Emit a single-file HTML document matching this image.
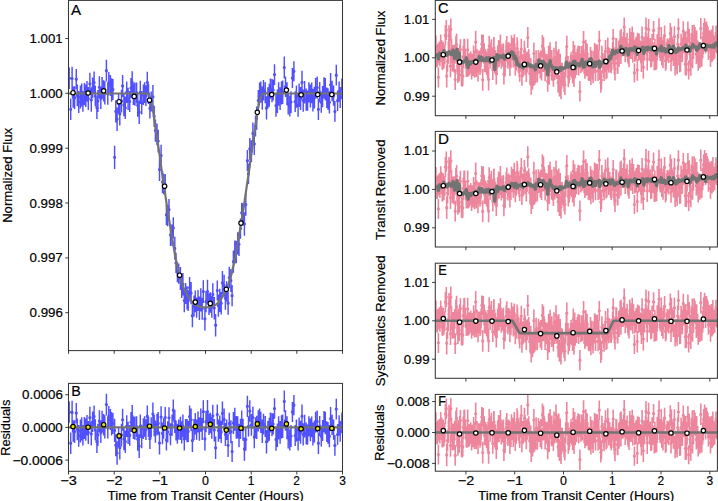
<!DOCTYPE html>
<html><head><meta charset="utf-8"><title>Transit light curves</title><style>html,body{margin:0;padding:0;background:#fff;overflow:hidden}svg{display:block}</style></head>
<body><svg width="718" height="501" viewBox="0 0 718 501">
<defs><clipPath id="cA"><rect x="68.5" y="0.4" width="274.0" height="350.2"/></clipPath><clipPath id="cB"><rect x="68.5" y="383.4" width="274.0" height="87.9"/></clipPath><clipPath id="cC"><rect x="435.3" y="0.4" width="282.1" height="115.3"/></clipPath><clipPath id="cD"><rect x="435.3" y="131.4" width="282.1" height="115.6"/></clipPath><clipPath id="cE"><rect x="435.3" y="263.2" width="282.1" height="115.1"/></clipPath><clipPath id="cF"><rect x="435.3" y="394.4" width="282.1" height="76.8"/></clipPath></defs><rect width="718" height="501" fill="#fff"/><g clip-path="url(#cA)" stroke="#5050ff" fill="none"><path d="M69.2 67.5V88.9M70.7 98.6V120.0M72.1 66.8V90.1M73.2 86.4V107.8M74.6 86.3V109.1M76.3 69.0V89.3M77.3 84.6V106.3M78.7 91.0V112.9M80.4 85.5V108.5M81.7 83.4V106.6M82.9 91.1V111.7M84.4 83.0V105.2M85.8 84.6V106.9M87.0 81.1V101.7M88.3 87.0V110.0M89.9 72.8V94.8M91.3 88.2V111.7M92.6 77.6V98.2M94.1 71.5V93.4M95.3 85.4V106.6M96.9 96.6V119.0M97.9 89.9V112.1M99.4 76.3V98.2M100.8 88.0V109.1M102.1 76.9V98.7M103.6 80.2V101.6M104.8 81.3V104.5M106.4 59.8V81.5M107.8 83.0V104.7M108.8 72.0V92.9M110.4 75.1V96.0M111.6 78.2V101.7M112.9 79.0V100.1M114.6 145.7V168.9M115.8 100.3V122.4M117.1 107.4V130.9M118.6 93.1V113.7M119.8 102.1V125.5M121.5 89.8V112.6M122.6 74.9V96.9M123.9 93.8V116.3M125.3 96.5V119.1M126.7 81.4V103.0M128.1 87.8V110.1M129.7 91.1V111.9M131.0 78.1V98.2M132.2 71.2V93.6M133.4 83.2V105.0M134.9 82.6V105.8M136.6 82.4V103.4M137.7 93.9V116.8M139.2 100.4V124.0M140.3 80.7V103.9M141.7 90.9V114.4M143.4 84.4V105.0M144.6 82.3V102.9M145.9 85.3V106.1M147.3 71.7V93.0M148.5 83.5V103.9M149.9 98.0V118.5M151.2 91.5V111.5M152.9 85.1V108.4M154.2 105.7V127.0M155.4 119.5V141.7M157.0 123.6V145.3M158.2 129.8V152.4M159.5 158.2V181.1M161.1 144.8V166.2M162.5 171.1V193.0M163.6 173.8V194.2M165.2 174.0V195.1M166.4 204.4V225.2M167.7 205.2V226.3M169.0 199.1V220.3M170.5 224.0V246.1M172.1 224.6V245.8M173.3 217.3V238.5M174.8 236.8V259.8M176.0 252.8V272.9M177.4 262.3V282.3M178.7 263.5V283.7M180.4 267.0V290.1M181.7 275.8V298.1M182.9 273.0V295.6M184.3 288.9V312.3M185.6 283.1V303.9M187.1 286.2V309.5M188.2 290.2V311.1M189.6 276.9V298.7M191.1 281.9V304.3M192.4 304.3V327.2M194.0 295.5V316.4M195.3 290.5V312.2M196.6 297.6V317.8M198.0 290.1V311.1M199.4 296.4V320.0M200.8 288.2V311.5M202.2 297.7V319.8M203.3 280.2V303.1M204.9 307.2V330.5M206.0 291.1V312.3M207.5 279.8V303.4M209.0 293.3V314.9M210.4 292.3V312.8M211.8 295.9V317.8M212.8 283.3V305.5M214.3 296.9V319.4M215.6 314.0V336.4M217.3 280.4V300.6M218.4 294.5V316.8M219.8 288.8V312.1M221.2 292.0V314.4M222.4 271.0V294.6M224.1 274.8V296.7M225.4 286.8V309.7M226.6 281.2V301.7M228.1 291.6V314.8M229.3 266.7V288.3M230.9 269.0V292.1M232.1 285.1V306.3M233.4 250.6V272.8M234.8 240.5V263.6M236.3 240.7V263.2M237.7 232.3V254.6M239.0 232.5V256.0M240.5 218.5V238.8M241.7 202.7V223.1M243.0 203.2V225.2M244.4 212.2V235.7M245.8 193.3V215.8M247.4 150.1V171.2M248.5 163.5V183.9M249.8 138.1V159.7M251.4 140.3V162.0M252.9 122.6V144.3M254.3 132.8V155.0M255.5 115.4V136.4M256.7 106.5V129.7M258.3 90.0V111.0M259.6 82.4V102.8M260.8 81.4V102.6M262.3 86.4V109.8M263.5 79.9V100.5M265.2 82.2V103.2M266.5 96.2V119.5M267.9 87.2V108.4M269.3 83.8V106.8M270.4 78.6V98.7M272.0 79.1V102.3M273.2 79.7V100.5M274.5 64.3V84.9M276.0 94.1V116.8M277.4 89.5V113.0M278.6 82.3V105.7M280.1 87.2V109.9M281.5 81.3V104.6M282.7 80.5V104.1M284.3 56.5V78.4M285.5 76.4V96.9M287.0 82.3V105.3M288.2 93.1V114.5M289.8 95.4V116.5M291.0 91.2V113.0M292.4 68.0V88.1M293.9 61.2V81.3M295.2 91.2V112.1M296.4 85.5V107.7M298.1 94.0V116.7M299.1 83.5V106.9M300.6 86.9V109.9M302.0 70.7V94.1M303.2 89.4V111.7M304.6 80.9V103.5M306.2 88.6V110.7M307.6 90.5V110.8M308.9 82.3V102.5M310.4 84.6V107.4M311.7 82.5V103.3M312.9 88.7V111.5M314.4 86.9V108.5M315.6 77.9V98.0M317.2 76.6V98.6M318.4 98.5V120.1M319.7 82.0V102.2M321.3 91.8V112.7M322.6 86.1V107.2M324.0 77.2V98.4M325.3 77.9V100.4M326.8 87.4V108.0M328.0 88.2V109.8M329.4 91.2V113.4M330.6 73.1V96.5M332.1 80.8V101.2M333.6 85.5V105.8M334.9 101.1V121.8M336.3 64.8V85.6M337.6 90.4V110.9M339.1 81.4V101.7M340.2 87.1V107.9M341.9 78.5V99.3" stroke-width="1.45"/><path d="M69.2 78.2h0M70.7 109.3h0M72.1 78.5h0M73.2 97.1h0M74.6 97.7h0M76.3 79.2h0M77.3 95.4h0M78.7 101.9h0M80.4 97.0h0M81.7 95.0h0M82.9 101.4h0M84.4 94.1h0M85.8 95.7h0M87.0 91.4h0M88.3 98.5h0M89.9 83.8h0M91.3 100.0h0M92.6 87.9h0M94.1 82.5h0M95.3 96.0h0M96.9 107.8h0M97.9 101.0h0M99.4 87.3h0M100.8 98.5h0M102.1 87.8h0M103.6 90.9h0M104.8 92.9h0M106.4 70.7h0M107.8 93.8h0M108.8 82.5h0M110.4 85.6h0M111.6 89.9h0M112.9 89.6h0M114.6 157.3h0M115.8 111.3h0M117.1 119.1h0M118.6 103.4h0M119.8 113.8h0M121.5 101.2h0M122.6 85.9h0M123.9 105.0h0M125.3 107.8h0M126.7 92.2h0M128.1 99.0h0M129.7 101.5h0M131.0 88.1h0M132.2 82.4h0M133.4 94.1h0M134.9 94.2h0M136.6 92.9h0M137.7 105.3h0M139.2 112.2h0M140.3 92.3h0M141.7 102.7h0M143.4 94.7h0M144.6 92.6h0M145.9 95.7h0M147.3 82.3h0M148.5 93.7h0M149.9 108.3h0M151.2 101.5h0M152.9 96.8h0M154.2 116.3h0M155.4 130.6h0M157.0 134.5h0M158.2 141.1h0M159.5 169.6h0M161.1 155.5h0M162.5 182.0h0M163.6 184.0h0M165.2 184.5h0M166.4 214.8h0M167.7 215.8h0M169.0 209.7h0M170.5 235.0h0M172.1 235.2h0M173.3 227.9h0M174.8 248.3h0M176.0 262.8h0M177.4 272.3h0M178.7 273.6h0M180.4 278.6h0M181.7 286.9h0M182.9 284.3h0M184.3 300.6h0M185.6 293.5h0M187.1 297.8h0M188.2 300.7h0M189.6 287.8h0M191.1 293.1h0M192.4 315.7h0M194.0 306.0h0M195.3 301.3h0M196.6 307.7h0M198.0 300.6h0M199.4 308.2h0M200.8 299.9h0M202.2 308.8h0M203.3 291.6h0M204.9 318.8h0M206.0 301.7h0M207.5 291.6h0M209.0 304.1h0M210.4 302.6h0M211.8 306.9h0M212.8 294.4h0M214.3 308.1h0M215.6 325.2h0M217.3 290.5h0M218.4 305.7h0M219.8 300.4h0M221.2 303.2h0M222.4 282.8h0M224.1 285.7h0M225.4 298.3h0M226.6 291.4h0M228.1 303.2h0M229.3 277.5h0M230.9 280.6h0M232.1 295.7h0M233.4 261.7h0M234.8 252.1h0M236.3 252.0h0M237.7 243.5h0M239.0 244.3h0M240.5 228.6h0M241.7 212.9h0M243.0 214.2h0M244.4 223.9h0M245.8 204.6h0M247.4 160.7h0M248.5 173.7h0M249.8 148.9h0M251.4 151.2h0M252.9 133.4h0M254.3 143.9h0M255.5 125.9h0M256.7 118.1h0M258.3 100.5h0M259.6 92.6h0M260.8 92.0h0M262.3 98.1h0M263.5 90.2h0M265.2 92.7h0M266.5 107.9h0M267.9 97.8h0M269.3 95.3h0M270.4 88.6h0M272.0 90.7h0M273.2 90.1h0M274.5 74.6h0M276.0 105.5h0M277.4 101.3h0M278.6 94.0h0M280.1 98.6h0M281.5 92.9h0M282.7 92.3h0M284.3 67.5h0M285.5 86.7h0M287.0 93.8h0M288.2 103.8h0M289.8 106.0h0M291.0 102.1h0M292.4 78.0h0M293.9 71.3h0M295.2 101.7h0M296.4 96.6h0M298.1 105.3h0M299.1 95.2h0M300.6 98.4h0M302.0 82.4h0M303.2 100.5h0M304.6 92.2h0M306.2 99.6h0M307.6 100.6h0M308.9 92.4h0M310.4 96.0h0M311.7 92.9h0M312.9 100.1h0M314.4 97.7h0M315.6 87.9h0M317.2 87.6h0M318.4 109.3h0M319.7 92.1h0M321.3 102.3h0M322.6 96.7h0M324.0 87.8h0M325.3 89.1h0M326.8 97.7h0M328.0 99.0h0M329.4 102.3h0M330.6 84.8h0M332.1 91.0h0M333.6 95.7h0M334.9 111.5h0M336.3 75.2h0M337.6 100.7h0M339.1 91.5h0M340.2 97.5h0M341.9 88.9h0" stroke-width="3.2" stroke-linecap="round"/></g><g clip-path="url(#cA)"><path d="M68.5 93.5 69.0 93.5 69.5 93.5 70.0 93.5 70.5 93.5 71.0 93.5 71.5 93.5 72.0 93.5 72.5 93.5 73.0 93.5 73.5 93.5 74.0 93.5 74.5 93.5 75.0 93.5 75.5 93.5 76.0 93.5 76.5 93.5 77.0 93.5 77.5 93.5 78.0 93.5 78.5 93.5 79.0 93.5 79.5 93.5 80.0 93.5 80.5 93.5 81.0 93.5 81.5 93.5 82.0 93.5 82.5 93.5 83.0 93.5 83.5 93.5 84.0 93.5 84.5 93.5 85.0 93.5 85.5 93.5 86.0 93.5 86.5 93.5 87.0 93.5 87.5 93.5 88.0 93.5 88.5 93.5 89.0 93.5 89.5 93.5 90.0 93.5 90.5 93.5 91.0 93.5 91.5 93.5 92.0 93.5 92.5 93.5 93.0 93.5 93.5 93.5 94.0 93.5 94.5 93.5 95.0 93.5 95.5 93.5 96.0 93.5 96.5 93.5 97.0 93.5 97.5 93.5 98.0 93.5 98.5 93.5 99.0 93.5 99.5 93.5 100.0 93.5 100.5 93.5 101.0 93.5 101.5 93.5 102.0 93.5 102.5 93.5 103.0 93.5 103.5 93.5 104.0 93.5 104.5 93.5 105.0 93.5 105.5 93.5 106.0 93.5 106.5 93.5 107.0 93.5 107.5 93.5 108.0 93.5 108.5 93.5 109.0 93.5 109.5 93.5 110.0 93.5 110.5 93.5 111.0 93.5 111.5 93.5 112.0 93.5 112.5 93.5 113.0 93.5 113.5 93.5 114.0 93.5 114.5 93.5 115.0 93.5 115.5 93.5 116.0 93.5 116.5 93.5 117.0 93.5 117.5 93.5 118.0 93.5 118.5 93.5 119.0 93.5 119.5 93.5 120.0 93.5 120.5 93.5 121.0 93.5 121.5 93.5 122.0 93.5 122.5 93.5 123.0 93.5 123.5 93.5 124.0 93.5 124.5 93.5 125.0 93.5 125.5 93.5 126.0 93.5 126.5 93.5 127.0 93.5 127.5 93.5 128.0 93.5 128.5 93.5 129.0 93.5 129.5 93.5 130.0 93.5 130.5 93.5 131.0 93.5 131.5 93.5 132.0 93.5 132.5 93.5 133.0 93.5 133.5 93.5 134.0 93.5 134.5 93.5 135.0 93.5 135.5 93.5 136.0 93.5 136.5 93.5 137.0 93.5 137.5 93.5 138.0 93.5 138.5 93.5 139.0 93.5 139.5 93.5 140.0 93.5 140.5 93.5 141.0 93.5 141.5 93.5 142.0 93.5 142.5 93.5 143.0 93.5 143.5 93.5 144.0 93.5 144.5 93.5 145.0 93.5 145.5 93.5 146.0 93.5 146.5 93.5 147.0 93.5 147.5 93.5 148.0 93.9 148.5 94.3 149.0 94.9 149.5 96.0 150.0 97.1 150.5 98.4 151.0 100.5 151.5 102.7 152.0 104.8 152.5 107.2 153.0 110.5 153.5 113.8 154.0 117.2 154.5 120.5 155.0 123.8 155.5 127.2 156.0 130.5 156.5 133.9 157.0 137.3 157.5 140.7 158.0 144.0 158.5 147.4 159.0 150.8 159.5 154.2 160.0 158.0 160.5 161.7 161.0 165.5 161.5 169.2 162.0 172.5 162.5 175.8 163.0 179.2 163.5 182.5 164.0 185.8 164.5 189.2 165.0 192.7 165.5 196.2 166.0 199.7 166.5 203.2 167.0 206.7 167.5 210.1 168.0 213.1 168.5 216.1 169.0 219.1 169.5 222.1 170.0 225.1 170.5 228.1 171.0 231.1 171.5 234.1 172.0 237.1 172.5 240.1 173.0 243.1 173.5 246.1 174.0 249.1 174.5 252.1 175.0 255.1 175.5 257.9 176.0 260.0 176.5 262.2 177.0 264.3 177.5 266.4 178.0 268.5 178.5 270.7 179.0 272.8 179.5 274.8 180.0 276.4 180.5 278.1 181.0 279.7 181.5 281.3 182.0 282.9 182.5 284.6 183.0 286.2 183.5 287.7 184.0 288.6 184.5 289.6 185.0 290.5 185.5 291.5 186.0 292.4 186.5 293.4 187.0 294.3 187.5 295.3 188.0 296.2 188.5 297.1 189.0 297.8 189.5 298.5 190.0 299.2 190.5 299.9 191.0 300.6 191.5 301.3 192.0 301.9 192.5 302.6 193.0 303.0 193.5 303.4 194.0 303.8 194.5 304.2 195.0 304.7 195.5 305.0 196.0 305.2 196.5 305.4 197.0 305.6 197.5 305.8 198.0 306.0 198.5 306.2 199.0 306.4 199.5 306.6 200.0 306.8 200.5 307.0 201.0 307.1 201.5 307.1 202.0 307.2 202.5 307.2 203.0 307.3 203.5 307.3 204.0 307.4 204.5 307.4 205.0 307.5 205.5 307.5 206.0 307.4 206.5 307.4 207.0 307.3 207.5 307.3 208.0 307.2 208.5 307.2 209.0 307.1 209.5 307.1 210.0 307.0 210.5 307.0 211.0 306.8 211.5 306.6 212.0 306.4 212.5 306.2 213.0 306.0 213.5 305.8 214.0 305.6 214.5 305.4 215.0 305.2 215.5 304.9 216.0 304.5 216.5 304.1 217.0 303.7 217.5 303.2 218.0 302.8 218.5 302.4 219.0 301.7 219.5 301.0 220.0 300.3 220.5 299.6 221.0 298.9 221.5 298.2 222.0 297.6 222.5 296.8 223.0 295.9 223.5 294.9 224.0 294.0 224.5 293.0 225.0 292.1 225.5 291.1 226.0 290.2 226.5 289.2 227.0 288.3 227.5 287.2 228.0 285.6 228.5 283.9 229.0 282.3 229.5 280.7 230.0 279.1 230.5 277.4 231.0 275.8 231.5 274.1 232.0 272.0 232.5 269.8 233.0 267.7 233.5 265.6 234.0 263.5 234.5 261.3 235.0 259.2 235.5 256.9 236.0 253.9 236.5 250.9 237.0 247.9 237.5 244.9 238.0 241.9 238.5 238.9 239.0 235.9 239.5 232.9 240.0 229.9 240.5 226.9 241.0 223.9 241.5 220.9 242.0 217.9 242.5 214.9 243.0 211.9 243.5 208.8 244.0 205.3 244.5 201.8 245.0 198.3 245.5 194.8 246.0 191.3 246.5 187.8 247.0 184.5 247.5 181.2 248.0 177.8 248.5 174.5 249.0 171.2 249.5 167.8 250.0 164.0 250.5 160.3 251.0 156.5 251.5 152.8 252.0 149.5 252.5 146.1 253.0 142.7 253.5 139.3 254.0 136.0 254.5 132.6 255.0 129.2 255.5 125.8 256.0 122.5 256.5 119.2 257.0 115.8 257.5 112.5 258.0 109.2 258.5 106.1 259.0 104.0 259.5 101.8 260.0 99.7 260.5 97.8 261.0 96.7 261.5 95.6 262.0 94.6 262.5 94.1 263.0 93.7 263.5 93.5 264.0 93.5 264.5 93.5 265.0 93.5 265.5 93.5 266.0 93.5 266.5 93.5 267.0 93.5 267.5 93.5 268.0 93.5 268.5 93.5 269.0 93.5 269.5 93.5 270.0 93.5 270.5 93.5 271.0 93.5 271.5 93.5 272.0 93.5 272.5 93.5 273.0 93.5 273.5 93.5 274.0 93.5 274.5 93.5 275.0 93.5 275.5 93.5 276.0 93.5 276.5 93.5 277.0 93.5 277.5 93.5 278.0 93.5 278.5 93.5 279.0 93.5 279.5 93.5 280.0 93.5 280.5 93.5 281.0 93.5 281.5 93.5 282.0 93.5 282.5 93.5 283.0 93.5 283.5 93.5 284.0 93.5 284.5 93.5 285.0 93.5 285.5 93.5 286.0 93.5 286.5 93.5 287.0 93.5 287.5 93.5 288.0 93.5 288.5 93.5 289.0 93.5 289.5 93.5 290.0 93.5 290.5 93.5 291.0 93.5 291.5 93.5 292.0 93.5 292.5 93.5 293.0 93.5 293.5 93.5 294.0 93.5 294.5 93.5 295.0 93.5 295.5 93.5 296.0 93.5 296.5 93.5 297.0 93.5 297.5 93.5 298.0 93.5 298.5 93.5 299.0 93.5 299.5 93.5 300.0 93.5 300.5 93.5 301.0 93.5 301.5 93.5 302.0 93.5 302.5 93.5 303.0 93.5 303.5 93.5 304.0 93.5 304.5 93.5 305.0 93.5 305.5 93.5 306.0 93.5 306.5 93.5 307.0 93.5 307.5 93.5 308.0 93.5 308.5 93.5 309.0 93.5 309.5 93.5 310.0 93.5 310.5 93.5 311.0 93.5 311.5 93.5 312.0 93.5 312.5 93.5 313.0 93.5 313.5 93.5 314.0 93.5 314.5 93.5 315.0 93.5 315.5 93.5 316.0 93.5 316.5 93.5 317.0 93.5 317.5 93.5 318.0 93.5 318.5 93.5 319.0 93.5 319.5 93.5 320.0 93.5 320.5 93.5 321.0 93.5 321.5 93.5 322.0 93.5 322.5 93.5 323.0 93.5 323.5 93.5 324.0 93.5 324.5 93.5 325.0 93.5 325.5 93.5 326.0 93.5 326.5 93.5 327.0 93.5 327.5 93.5 328.0 93.5 328.5 93.5 329.0 93.5 329.5 93.5 330.0 93.5 330.5 93.5 331.0 93.5 331.5 93.5 332.0 93.5 332.5 93.5 333.0 93.5 333.5 93.5 334.0 93.5 334.5 93.5 335.0 93.5 335.5 93.5 336.0 93.5 336.5 93.5 337.0 93.5 337.5 93.5 338.0 93.5 338.5 93.5 339.0 93.5 339.5 93.5 340.0 93.5 340.5 93.5 341.0 93.5 341.5 93.5 342.0 93.5 342.5 93.5" stroke="#737373" stroke-width="2.2" fill="none"/></g><g stroke="#000" stroke-width="1.2"><circle cx="73.0" cy="92.7" r="2.2" fill="#fff"/><circle cx="88.1" cy="93.0" r="2.2" fill="#fff"/><circle cx="103.7" cy="90.8" r="2.2" fill="#fff"/><circle cx="119.1" cy="101.7" r="2.2" fill="#fff"/><circle cx="134.2" cy="96.4" r="2.2" fill="#fff"/><circle cx="149.5" cy="100.2" r="2.2" fill="#fff"/><circle cx="164.6" cy="186.2" r="2.2" fill="#fff"/><circle cx="179.6" cy="275.2" r="2.2" fill="#fff"/><circle cx="195.3" cy="302.1" r="2.2" fill="#fff"/><circle cx="210.3" cy="303.4" r="2.2" fill="#fff"/><circle cx="226.3" cy="289.3" r="2.2" fill="#fff"/><circle cx="241.0" cy="223.1" r="2.2" fill="#fff"/><circle cx="257.3" cy="112.3" r="2.2" fill="#fff"/><circle cx="271.7" cy="94.5" r="2.2" fill="#fff"/><circle cx="286.4" cy="90.1" r="2.2" fill="#fff"/><circle cx="301.1" cy="94.8" r="2.2" fill="#fff"/><circle cx="317.7" cy="94.5" r="2.2" fill="#fff"/><circle cx="331.8" cy="94.5" r="2.2" fill="#fff"/></g><g clip-path="url(#cB)" stroke="#5050ff" fill="none"><path d="M69.2 401.4V422.8M70.7 432.5V453.9M72.1 400.7V424.0M73.2 420.3V441.7M74.6 420.2V443.0M76.3 402.9V423.2M77.3 418.5V440.2M78.7 424.9V446.8M80.4 419.4V442.4M81.7 417.3V440.5M82.9 425.0V445.6M84.4 416.9V439.1M85.8 418.5V440.8M87.0 415.0V435.6M88.3 420.9V443.9M89.9 406.7V428.7M91.3 422.1V445.6M92.6 411.5V432.1M94.1 405.4V427.3M95.3 419.3V440.5M96.9 430.5V452.9M97.9 423.8V446.0M99.4 410.2V432.1M100.8 421.9V443.0M102.1 410.8V432.6M103.6 414.1V435.5M104.8 415.2V438.4M106.4 393.7V415.4M107.8 416.9V438.6M108.8 405.9V426.8M110.4 409.0V429.9M111.6 412.1V435.6M112.9 412.9V434.0M114.6 418.8V442.0M115.8 434.2V456.3M117.1 441.3V464.8M118.6 427.0V447.6M119.8 436.0V459.4M121.5 423.7V446.5M122.6 408.8V430.8M123.9 427.7V450.2M125.3 430.4V453.0M126.7 415.3V436.9M128.1 421.7V444.0M129.7 425.0V445.8M131.0 412.0V432.1M132.2 405.1V427.5M133.4 417.1V438.9M134.9 416.5V439.7M136.6 416.3V437.3M137.7 427.8V450.7M139.2 434.3V457.9M140.3 414.6V437.8M141.7 424.8V448.3M143.4 418.3V438.9M144.6 416.2V436.8M145.9 419.2V440.0M147.3 405.6V426.9M148.5 416.5V436.9M149.9 428.4V449.0M151.2 417.3V437.4M152.9 402.4V425.8M154.2 414.9V436.2M155.4 420.5V442.7M157.0 413.7V435.4M158.2 412.1V434.8M159.5 431.6V454.5M161.1 406.3V427.7M162.5 422.4V444.3M163.6 418.3V438.7M165.2 407.0V428.1M166.4 429.6V450.4M167.7 421.3V442.4M169.0 407.2V428.4M170.5 423.2V445.3M172.1 414.6V435.8M173.3 399.6V420.8M174.8 410.0V433.0M176.0 420.4V440.4M177.4 423.8V443.8M178.7 419.4V439.6M180.4 416.8V439.9M181.7 421.2V443.4M182.9 414.6V437.3M184.3 427.1V450.6M185.6 418.9V439.7M187.1 419.0V442.3M188.2 421.0V441.9M189.6 405.6V427.5M191.1 408.6V431.0M192.4 429.2V452.1M194.0 419.1V440.0M195.3 412.9V434.6M196.6 419.5V439.7M198.0 411.4V432.5M199.4 417.2V440.8M200.8 408.6V431.8M202.2 417.9V440.0M203.3 400.3V423.2M204.9 427.2V450.4M206.0 411.1V432.2M207.5 400.0V423.5M209.0 413.5V435.1M210.4 412.7V433.3M211.8 416.9V438.8M212.8 404.7V426.8M214.3 418.9V441.4M215.6 436.6V459.0M217.3 404.5V424.6M218.4 419.4V441.7M219.8 415.6V438.9M221.2 420.7V443.1M222.4 401.5V425.0M224.1 408.5V430.3M225.4 422.9V445.9M226.6 419.5V440.0M228.1 433.7V456.9M229.3 412.8V434.3M230.9 420.2V443.3M232.1 440.9V462.1M233.4 411.9V434.1M234.8 407.8V430.8M236.3 416.1V438.7M237.7 416.2V438.4M239.0 423.8V447.3M240.5 418.8V439.1M241.7 410.5V430.9M243.0 418.7V440.7M244.4 437.4V460.8M245.8 428.3V450.8M247.4 395.8V416.9M248.5 416.2V436.6M249.8 400.2V421.8M251.4 414.1V435.8M252.9 406.7V428.4M254.3 426.0V448.2M255.5 417.3V438.3M256.7 415.8V439.0M258.3 410.3V431.4M259.6 408.6V428.9M260.8 411.7V432.9M262.3 419.5V442.9M263.5 413.8V434.4M265.2 416.1V437.1M266.5 430.1V453.4M267.9 421.1V442.3M269.3 417.7V440.7M270.4 412.5V432.6M272.0 413.0V436.2M273.2 413.6V434.4M274.5 398.2V418.8M276.0 428.0V450.7M277.4 423.4V446.9M278.6 416.2V439.6M280.1 421.1V443.8M281.5 415.2V438.5M282.7 414.4V438.0M284.3 390.4V412.3M285.5 410.3V430.8M287.0 416.2V439.2M288.2 427.0V448.4M289.8 429.3V450.4M291.0 425.1V446.9M292.4 401.9V422.0M293.9 395.1V415.2M295.2 425.1V446.0M296.4 419.4V441.6M298.1 427.9V450.6M299.1 417.4V440.8M300.6 420.8V443.8M302.0 404.6V428.0M303.2 423.3V445.6M304.6 414.8V437.4M306.2 422.5V444.6M307.6 424.4V444.7M308.9 416.2V436.4M310.4 418.5V441.3M311.7 416.4V437.2M312.9 422.6V445.4M314.4 420.8V442.4M315.6 411.8V431.9M317.2 410.5V432.5M318.4 432.4V454.0M319.7 415.9V436.1M321.3 425.7V446.6M322.6 420.0V441.1M324.0 411.1V432.3M325.3 411.8V434.3M326.8 421.3V441.9M328.0 422.1V443.7M329.4 425.1V447.3M330.6 407.0V430.4M332.1 414.7V435.1M333.6 419.4V439.7M334.9 435.0V455.7M336.3 398.7V419.5M337.6 424.3V444.8M339.1 415.3V435.6M340.2 421.0V441.8M341.9 412.4V433.2" stroke-width="1.45"/><path d="M69.2 412.1h0M70.7 443.2h0M72.1 412.4h0M73.2 431.0h0M74.6 431.6h0M76.3 413.1h0M77.3 429.3h0M78.7 435.8h0M80.4 430.9h0M81.7 428.9h0M82.9 435.3h0M84.4 428.0h0M85.8 429.6h0M87.0 425.3h0M88.3 432.4h0M89.9 417.7h0M91.3 433.9h0M92.6 421.8h0M94.1 416.4h0M95.3 429.9h0M96.9 441.7h0M97.9 434.9h0M99.4 421.2h0M100.8 432.4h0M102.1 421.7h0M103.6 424.8h0M104.8 426.8h0M106.4 404.6h0M107.8 427.7h0M108.8 416.4h0M110.4 419.5h0M111.6 423.8h0M112.9 423.5h0M114.6 430.4h0M115.8 445.2h0M117.1 453.0h0M118.6 437.3h0M119.8 447.7h0M121.5 435.1h0M122.6 419.8h0M123.9 438.9h0M125.3 441.7h0M126.7 426.1h0M128.1 432.9h0M129.7 435.4h0M131.0 422.0h0M132.2 416.3h0M133.4 428.0h0M134.9 428.1h0M136.6 426.8h0M137.7 439.2h0M139.2 446.1h0M140.3 426.2h0M141.7 436.6h0M143.4 428.6h0M144.6 426.5h0M145.9 429.6h0M147.3 416.2h0M148.5 426.7h0M149.9 438.7h0M151.2 427.3h0M152.9 414.1h0M154.2 425.5h0M155.4 431.6h0M157.0 424.5h0M158.2 423.4h0M159.5 443.0h0M161.1 417.0h0M162.5 433.3h0M163.6 428.5h0M165.2 417.6h0M166.4 440.0h0M167.7 431.9h0M169.0 417.8h0M170.5 434.3h0M172.1 425.2h0M173.3 410.2h0M174.8 421.5h0M176.0 430.4h0M177.4 433.8h0M178.7 429.5h0M180.4 428.3h0M181.7 432.3h0M182.9 426.0h0M184.3 438.9h0M185.6 429.3h0M187.1 430.7h0M188.2 431.4h0M189.6 416.6h0M191.1 419.8h0M192.4 440.6h0M194.0 429.5h0M195.3 423.8h0M196.6 429.6h0M198.0 421.9h0M199.4 429.0h0M200.8 420.2h0M202.2 429.0h0M203.3 411.7h0M204.9 438.8h0M206.0 421.7h0M207.5 411.7h0M209.0 424.3h0M210.4 423.0h0M211.8 427.8h0M212.8 415.8h0M214.3 430.1h0M215.6 447.8h0M217.3 414.5h0M218.4 430.5h0M219.8 427.2h0M221.2 431.9h0M222.4 413.3h0M224.1 419.4h0M225.4 434.4h0M226.6 429.8h0M228.1 445.3h0M229.3 423.6h0M230.9 431.7h0M232.1 451.5h0M233.4 423.0h0M234.8 419.3h0M236.3 427.4h0M237.7 427.3h0M239.0 435.6h0M240.5 428.9h0M241.7 420.7h0M243.0 429.7h0M244.4 449.1h0M245.8 439.5h0M247.4 406.3h0M248.5 426.4h0M249.8 411.0h0M251.4 424.9h0M252.9 417.5h0M254.3 437.1h0M255.5 427.8h0M256.7 427.4h0M258.3 420.9h0M259.6 418.8h0M260.8 422.3h0M262.3 431.2h0M263.5 424.1h0M265.2 426.6h0M266.5 441.8h0M267.9 431.7h0M269.3 429.2h0M270.4 422.5h0M272.0 424.6h0M273.2 424.0h0M274.5 408.5h0M276.0 439.4h0M277.4 435.2h0M278.6 427.9h0M280.1 432.5h0M281.5 426.8h0M282.7 426.2h0M284.3 401.4h0M285.5 420.6h0M287.0 427.7h0M288.2 437.7h0M289.8 439.9h0M291.0 436.0h0M292.4 411.9h0M293.9 405.2h0M295.2 435.6h0M296.4 430.5h0M298.1 439.2h0M299.1 429.1h0M300.6 432.3h0M302.0 416.3h0M303.2 434.4h0M304.6 426.1h0M306.2 433.5h0M307.6 434.5h0M308.9 426.3h0M310.4 429.9h0M311.7 426.8h0M312.9 434.0h0M314.4 431.6h0M315.6 421.8h0M317.2 421.5h0M318.4 443.2h0M319.7 426.0h0M321.3 436.2h0M322.6 430.6h0M324.0 421.7h0M325.3 423.0h0M326.8 431.6h0M328.0 432.9h0M329.4 436.2h0M330.6 418.7h0M332.1 424.9h0M333.6 429.6h0M334.9 445.4h0M336.3 409.1h0M337.6 434.6h0M339.1 425.4h0M340.2 431.4h0M341.9 422.8h0" stroke-width="3.2" stroke-linecap="round"/></g><path d="M68.5 427.4H342.5" stroke="#737373" stroke-width="2.4"/><g stroke="#000" stroke-width="1.2"><circle cx="73.0" cy="426.6" r="2.2" fill="#e8e000"/><circle cx="88.1" cy="427.2" r="2.2" fill="#e8e000"/><circle cx="103.7" cy="424.7" r="2.2" fill="#e8e000"/><circle cx="119.1" cy="435.9" r="2.2" fill="#e8e000"/><circle cx="134.2" cy="430.3" r="2.2" fill="#e8e000"/><circle cx="149.5" cy="426.2" r="2.2" fill="#e8e000"/><circle cx="164.6" cy="428.0" r="2.2" fill="#e8e000"/><circle cx="179.6" cy="428.0" r="2.2" fill="#e8e000"/><circle cx="195.3" cy="426.5" r="2.2" fill="#e8e000"/><circle cx="210.3" cy="424.3" r="2.2" fill="#e8e000"/><circle cx="226.3" cy="430.1" r="2.2" fill="#e8e000"/><circle cx="241.0" cy="428.2" r="2.2" fill="#e8e000"/><circle cx="257.3" cy="423.9" r="2.2" fill="#e8e000"/><circle cx="271.7" cy="428.3" r="2.2" fill="#e8e000"/><circle cx="286.4" cy="423.9" r="2.2" fill="#e8e000"/><circle cx="301.1" cy="428.8" r="2.2" fill="#e8e000"/><circle cx="317.7" cy="428.6" r="2.2" fill="#e8e000"/><circle cx="331.8" cy="428.3" r="2.2" fill="#e8e000"/></g><g clip-path="url(#cC)" stroke="#ed869c" fill="none"><path d="M435.9 35.5V58.2M436.7 46.1V67.4M437.2 44.9V67.1M437.8 43.6V65.4M438.4 67.3V87.4M439.2 41.6V63.3M439.9 46.0V66.2M440.7 34.6V55.5M441.6 40.1V62.3M442.2 49.8V69.7M442.6 50.3V70.0M443.2 41.7V64.1M443.9 47.7V68.6M444.8 44.7V64.4M445.4 25.3V45.5M446.3 20.0V40.1M446.7 64.8V87.4M447.5 50.9V71.8M448.4 41.1V63.8M449.0 25.3V46.2M449.6 28.7V51.5M450.5 54.6V77.3M450.8 18.6V39.9M451.5 38.5V60.6M452.4 51.5V71.6M453.1 45.0V64.5M454.0 51.2V72.6M454.7 44.6V63.8M455.2 69.1V90.0M455.9 36.3V57.8M456.6 33.4V55.5M457.0 49.6V72.2M457.9 63.2V83.1M458.5 47.9V70.4M459.2 60.2V81.2M459.8 45.0V66.5M460.4 39.2V60.0M461.5 63.7V86.1M462.1 66.5V86.7M462.8 66.7V85.8M463.3 45.8V68.1M464.0 39.1V60.7M464.6 38.8V60.7M465.5 49.3V68.8M466.3 57.0V76.8M466.9 55.5V77.0M467.7 38.8V60.8M468.1 55.0V76.6M469.0 53.3V74.7M469.4 53.9V75.6M470.3 53.8V73.4M470.7 51.3V72.1M471.6 59.2V79.5M472.3 53.7V75.6M472.9 55.0V76.0M473.6 45.4V67.3M474.5 56.0V77.7M475.0 50.4V73.0M475.7 30.8V53.2M476.2 57.8V77.0M477.0 49.0V70.7M478.0 61.1V81.6M478.7 50.8V70.2M479.1 50.6V71.6M480.0 52.8V75.1M480.7 50.6V72.8M481.1 47.7V67.1M481.8 34.3V54.1M482.7 68.9V90.7M483.2 34.8V57.6M484.2 43.2V62.6M484.6 52.9V72.3M485.5 49.0V70.8M486.1 51.0V72.4M486.6 52.5V74.8M487.6 58.5V78.3M488.0 48.4V69.4M488.6 68.4V90.6M489.2 35.7V56.3M490.1 47.8V68.4M490.9 42.6V61.7M491.4 39.2V61.4M492.4 47.8V68.6M492.8 59.4V79.9M493.8 37.4V59.0M494.0 36.9V59.3M494.8 50.8V73.3M495.5 50.0V70.3M496.3 63.1V84.5M497.0 54.3V74.9M497.7 45.4V67.8M498.6 39.9V62.0M499.1 45.4V67.0M499.8 41.1V63.4M500.4 34.4V55.5M501.3 47.6V68.8M501.8 46.4V66.1M502.6 44.6V66.4M503.4 43.3V63.4M503.9 63.4V84.6M504.5 54.6V73.6M505.1 56.0V76.6M506.2 40.2V61.6M506.8 35.9V57.4M507.5 43.1V64.4M507.9 48.8V68.8M508.7 42.0V63.6M509.6 43.3V64.9M509.9 54.6V76.0M510.9 47.8V68.3M511.5 35.2V54.8M512.0 39.4V60.6M512.8 38.0V57.2M513.3 45.0V67.6M514.3 34.2V54.7M515.0 45.9V66.0M515.3 54.9V75.7M516.2 51.2V70.6M517.1 37.3V59.9M517.5 41.1V64.0M518.3 50.5V72.8M519.2 55.8V77.1M519.7 59.1V81.8M520.2 50.6V70.9M521.3 38.7V59.5M521.9 66.0V85.7M522.5 54.4V75.1M523.0 54.3V77.1M523.9 53.8V75.4M524.4 40.7V61.9M525.0 47.7V68.9M525.7 53.1V74.6M526.3 60.7V82.1M527.1 51.4V72.2M527.8 27.0V48.1M528.7 48.9V68.3M529.3 54.0V74.7M530.0 62.7V84.4M530.8 58.1V78.0M531.2 74.6V94.7M532.0 64.2V86.4M532.5 70.1V89.7M533.4 66.3V86.0M533.9 42.4V64.6M534.6 65.8V85.3M535.3 63.0V83.2M536.1 50.3V72.9M537.0 61.7V82.4M537.4 59.0V81.3M538.4 50.0V72.1M538.8 54.6V73.7M539.5 52.5V72.4M540.3 55.7V78.4M540.8 50.5V70.8M541.6 60.0V80.6M542.4 34.9V57.6M543.2 52.6V72.1M543.5 37.2V60.1M544.6 49.8V71.3M545.1 59.7V81.2M545.8 56.3V75.3M546.2 53.8V75.3M547.4 55.5V77.8M547.7 71.1V91.7M548.6 45.8V65.1M549.2 65.3V84.8M550.1 42.2V61.5M550.6 52.2V72.8M551.5 58.3V80.5M551.8 50.1V69.3M552.7 60.5V81.1M553.4 66.1V86.7M554.0 47.8V68.4M554.8 59.1V80.2M555.4 56.1V77.3M556.0 41.2V61.0M556.8 56.8V79.0M557.3 51.2V72.3M558.1 72.2V92.6M558.8 49.1V72.0M559.4 74.8V96.6M560.2 53.8V73.5M561.0 76.3V99.2M561.4 63.3V84.6M562.2 62.8V83.1M562.7 66.3V86.3M563.7 67.4V86.7M564.1 71.9V91.9M564.9 74.9V95.1M565.7 56.8V77.1M566.4 46.4V69.4M566.8 35.8V57.2M568.0 56.0V75.8M568.3 66.8V87.3M569.2 62.7V83.4M569.7 60.7V80.0M570.6 55.3V76.1M571.1 52.3V73.4M571.8 55.0V77.7M572.6 62.6V83.3M573.3 41.0V62.7M574.0 65.4V87.1M574.7 45.0V64.7M575.2 56.9V78.2M575.8 52.3V73.1M576.6 55.3V74.9M577.3 48.7V67.8M578.1 45.5V68.5M578.7 56.2V75.6M579.3 46.1V68.6M579.9 81.1V101.6M580.9 53.8V73.1M581.3 45.9V68.8M582.2 49.9V71.5M583.0 45.0V65.7M583.6 31.1V53.4M584.1 52.1V74.0M584.9 58.1V78.7M585.8 39.7V61.5M586.1 54.4V76.4M587.1 43.6V63.3M587.7 54.0V75.9M588.4 57.5V80.2M589.0 59.2V81.0M589.6 58.5V80.7M590.5 46.9V69.9M590.9 62.8V85.0M592.0 50.5V71.4M592.6 58.1V79.4M593.1 61.2V83.3M593.9 51.6V73.1M594.6 43.1V62.4M595.5 61.7V80.9M595.7 44.3V64.4M596.5 45.4V67.7M597.3 44.6V64.4M598.1 60.8V81.0M598.8 49.9V72.2M599.3 30.8V50.4M599.8 59.8V79.9M600.8 72.8V92.8M601.4 70.5V89.7M601.9 45.8V67.8M602.9 52.9V73.1M603.5 56.8V77.5M604.1 60.7V81.0M604.7 52.7V71.9M605.5 40.1V62.5M606.1 59.7V79.3M606.9 58.1V78.3M607.8 37.7V59.6M608.3 47.0V67.4M608.8 51.8V72.8M609.7 47.9V68.3M610.6 51.0V72.3M611.2 53.0V73.2M611.8 49.1V69.9M612.6 42.1V61.2M613.2 28.9V48.0M613.9 46.8V67.8M614.4 52.1V74.4M615.0 57.5V80.5M616.0 37.9V60.2M616.6 38.3V59.4M617.4 52.4V73.9M617.8 52.1V73.8M618.8 40.9V62.8M619.1 43.9V66.8M620.2 30.4V50.7M620.9 43.3V64.1M621.1 28.8V50.9M621.9 36.5V56.4M623.0 36.9V56.3M623.6 31.9V54.5M624.2 17.5V36.6M624.6 28.4V50.9M625.2 39.6V62.3M626.0 37.2V56.9M627.1 32.7V54.7M627.7 41.7V61.8M628.2 44.2V64.3M629.0 44.3V67.2M629.8 28.2V50.8M630.2 36.6V58.6M631.1 38.3V59.1M631.5 31.9V54.8M632.2 26.6V47.9M632.8 39.5V62.4M633.5 32.3V54.2M634.4 63.3V82.5M634.8 39.7V61.9M635.8 38.3V60.6M636.3 36.5V59.0M637.3 59.2V80.7M637.6 32.7V51.9M638.4 38.7V61.1M639.1 33.5V54.2M639.9 40.3V60.0M640.7 41.1V60.9M641.4 52.2V72.0M642.1 26.4V48.6M642.7 41.5V60.8M643.3 55.9V78.5M643.9 36.8V55.9M644.5 38.7V60.6M645.6 32.7V52.6M646.0 17.5V38.5M646.8 36.7V56.4M647.2 47.8V70.4M648.1 33.2V52.8M648.6 19.1V39.9M649.4 39.5V60.9M650.3 38.0V58.8M650.8 47.6V67.4M651.6 46.7V66.8M652.1 33.9V56.6M652.9 42.1V61.6M653.6 20.9V40.0M654.3 47.8V70.4M654.9 38.8V61.3M655.8 48.1V69.9M656.6 48.4V69.3M657.2 34.3V57.1M657.5 36.8V57.4M658.4 30.6V49.6M659.0 18.2V38.9M659.8 37.0V58.1M660.3 39.8V61.0M661.3 27.0V49.5M661.8 46.2V65.5M662.8 39.8V62.2M663.0 47.0V68.1M663.9 34.6V56.5M664.6 25.4V46.1M665.5 50.6V70.8M666.1 48.9V69.2M666.5 41.9V62.0M667.3 38.5V59.3M668.2 39.7V61.0M668.7 40.6V62.9M669.3 38.2V57.9M670.3 22.9V43.7M671.0 50.1V71.2M671.4 27.1V49.4M672.2 38.6V60.4M673.1 38.9V60.4M673.4 44.3V66.0M674.4 26.3V47.1M675.1 53.1V75.4M675.7 47.6V69.9M676.4 49.2V70.4M677.1 54.9V74.3M677.7 33.9V54.6M678.4 18.6V38.7M678.9 45.3V65.1M679.7 52.1V72.3M680.5 49.5V71.8M681.1 33.8V54.1M681.9 37.8V58.6M682.4 41.6V62.1M683.3 21.3V41.1M683.9 31.6V52.9M684.3 32.2V52.9M685.3 52.8V75.5M685.8 31.5V52.9M686.4 52.4V75.4M687.1 37.3V59.8M687.9 21.4V42.4M688.7 60.4V79.5M689.2 28.7V48.5M689.9 44.4V63.8M690.8 53.7V75.7M691.3 32.9V52.5M692.3 25.0V46.6M692.6 47.9V68.2M693.5 38.0V58.9M694.1 24.7V46.7M695.0 27.0V47.2M695.6 31.1V50.8M696.3 44.1V64.2M696.7 30.5V53.2M697.7 40.4V61.6M698.2 50.7V70.8M699.1 47.1V66.7M699.8 48.9V68.2M700.1 46.3V66.7M700.8 17.9V39.3M701.8 45.9V66.7M702.6 36.3V58.6M703.3 31.5V54.5M703.7 22.9V44.2M704.6 18.3V38.7M704.9 22.1V44.3M705.6 34.1V53.5M706.5 21.4V43.5M707.2 24.7V47.2M708.0 26.8V48.9M708.4 40.7V60.1M709.2 30.2V51.5M710.2 31.2V53.4M710.5 46.4V67.1M711.3 29.5V51.9M712.0 42.3V62.0M712.9 25.4V46.6M713.2 39.0V60.2M714.1 36.6V58.7M714.7 37.9V58.6M715.4 32.0V52.0M716.0 25.6V47.4M716.8 34.0V53.5" stroke-width="1.6"/><path d="M435.9 46.8h0M436.7 56.8h0M437.2 56.0h0M437.8 54.5h0M438.4 77.3h0M439.2 52.5h0M439.9 56.1h0M440.7 45.1h0M441.6 51.2h0M442.2 59.8h0M442.6 60.1h0M443.2 52.9h0M443.9 58.1h0M444.8 54.6h0M445.4 35.4h0M446.3 30.1h0M446.7 76.1h0M447.5 61.4h0M448.4 52.4h0M449.0 35.8h0M449.6 40.1h0M450.5 66.0h0M450.8 29.3h0M451.5 49.5h0M452.4 61.5h0M453.1 54.8h0M454.0 61.9h0M454.7 54.2h0M455.2 79.6h0M455.9 47.1h0M456.6 44.5h0M457.0 60.9h0M457.9 73.2h0M458.5 59.1h0M459.2 70.7h0M459.8 55.8h0M460.4 49.6h0M461.5 74.9h0M462.1 76.6h0M462.8 76.2h0M463.3 56.9h0M464.0 49.9h0M464.6 49.8h0M465.5 59.0h0M466.3 66.9h0M466.9 66.2h0M467.7 49.8h0M468.1 65.8h0M469.0 64.0h0M469.4 64.7h0M470.3 63.6h0M470.7 61.7h0M471.6 69.4h0M472.3 64.6h0M472.9 65.5h0M473.6 56.4h0M474.5 66.8h0M475.0 61.7h0M475.7 42.0h0M476.2 67.4h0M477.0 59.9h0M478.0 71.3h0M478.7 60.5h0M479.1 61.1h0M480.0 63.9h0M480.7 61.7h0M481.1 57.4h0M481.8 44.2h0M482.7 79.8h0M483.2 46.2h0M484.2 52.9h0M484.6 62.6h0M485.5 59.9h0M486.1 61.7h0M486.6 63.6h0M487.6 68.4h0M488.0 58.9h0M488.6 79.5h0M489.2 46.0h0M490.1 58.1h0M490.9 52.2h0M491.4 50.3h0M492.4 58.2h0M492.8 69.6h0M493.8 48.2h0M494.0 48.1h0M494.8 62.0h0M495.5 60.1h0M496.3 73.8h0M497.0 64.6h0M497.7 56.6h0M498.6 51.0h0M499.1 56.2h0M499.8 52.2h0M500.4 45.0h0M501.3 58.2h0M501.8 56.3h0M502.6 55.5h0M503.4 53.4h0M503.9 74.0h0M504.5 64.1h0M505.1 66.3h0M506.2 50.9h0M506.8 46.7h0M507.5 53.7h0M507.9 58.8h0M508.7 52.8h0M509.6 54.1h0M509.9 65.3h0M510.9 58.0h0M511.5 45.0h0M512.0 50.0h0M512.8 47.6h0M513.3 56.3h0M514.3 44.5h0M515.0 55.9h0M515.3 65.3h0M516.2 60.9h0M517.1 48.6h0M517.5 52.5h0M518.3 61.6h0M519.2 66.5h0M519.7 70.4h0M520.2 60.7h0M521.3 49.1h0M521.9 75.9h0M522.5 64.7h0M523.0 65.7h0M523.9 64.6h0M524.4 51.3h0M525.0 58.3h0M525.7 63.9h0M526.3 71.4h0M527.1 61.8h0M527.8 37.6h0M528.7 58.6h0M529.3 64.4h0M530.0 73.5h0M530.8 68.0h0M531.2 84.6h0M532.0 75.3h0M532.5 79.9h0M533.4 76.2h0M533.9 53.5h0M534.6 75.5h0M535.3 73.1h0M536.1 61.6h0M537.0 72.1h0M537.4 70.2h0M538.4 61.0h0M538.8 64.2h0M539.5 62.4h0M540.3 67.0h0M540.8 60.7h0M541.6 70.3h0M542.4 46.2h0M543.2 62.4h0M543.5 48.6h0M544.6 60.6h0M545.1 70.4h0M545.8 65.8h0M546.2 64.6h0M547.4 66.6h0M547.7 81.4h0M548.6 55.4h0M549.2 75.1h0M550.1 51.8h0M550.6 62.5h0M551.5 69.4h0M551.8 59.7h0M552.7 70.8h0M553.4 76.4h0M554.0 58.1h0M554.8 69.6h0M555.4 66.7h0M556.0 51.1h0M556.8 67.9h0M557.3 61.8h0M558.1 82.4h0M558.8 60.5h0M559.4 85.7h0M560.2 63.6h0M561.0 87.7h0M561.4 73.9h0M562.2 72.9h0M562.7 76.3h0M563.7 77.1h0M564.1 81.9h0M564.9 85.0h0M565.7 66.9h0M566.4 57.9h0M566.8 46.5h0M568.0 65.9h0M568.3 77.0h0M569.2 73.1h0M569.7 70.3h0M570.6 65.7h0M571.1 62.9h0M571.8 66.3h0M572.6 72.9h0M573.3 51.8h0M574.0 76.3h0M574.7 54.8h0M575.2 67.5h0M575.8 62.7h0M576.6 65.1h0M577.3 58.3h0M578.1 57.0h0M578.7 65.9h0M579.3 57.3h0M579.9 91.4h0M580.9 63.5h0M581.3 57.4h0M582.2 60.7h0M583.0 55.4h0M583.6 42.2h0M584.1 63.1h0M584.9 68.4h0M585.8 50.6h0M586.1 65.4h0M587.1 53.5h0M587.7 65.0h0M588.4 68.8h0M589.0 70.1h0M589.6 69.6h0M590.5 58.4h0M590.9 73.9h0M592.0 60.9h0M592.6 68.7h0M593.1 72.2h0M593.9 62.3h0M594.6 52.7h0M595.5 71.3h0M595.7 54.4h0M596.5 56.6h0M597.3 54.5h0M598.1 70.9h0M598.8 61.0h0M599.3 40.6h0M599.8 69.8h0M600.8 82.8h0M601.4 80.1h0M601.9 56.8h0M602.9 63.0h0M603.5 67.1h0M604.1 70.8h0M604.7 62.3h0M605.5 51.3h0M606.1 69.5h0M606.9 68.2h0M607.8 48.6h0M608.3 57.2h0M608.8 62.3h0M609.7 58.1h0M610.6 61.6h0M611.2 63.1h0M611.8 59.5h0M612.6 51.7h0M613.2 38.4h0M613.9 57.3h0M614.4 63.2h0M615.0 69.0h0M616.0 49.1h0M616.6 48.9h0M617.4 63.2h0M617.8 63.0h0M618.8 51.9h0M619.1 55.4h0M620.2 40.6h0M620.9 53.7h0M621.1 39.9h0M621.9 46.5h0M623.0 46.6h0M623.6 43.2h0M624.2 27.1h0M624.6 39.6h0M625.2 51.0h0M626.0 47.1h0M627.1 43.7h0M627.7 51.8h0M628.2 54.3h0M629.0 55.8h0M629.8 39.5h0M630.2 47.6h0M631.1 48.7h0M631.5 43.4h0M632.2 37.2h0M632.8 50.9h0M633.5 43.3h0M634.4 72.9h0M634.8 50.8h0M635.8 49.5h0M636.3 47.7h0M637.3 69.9h0M637.6 42.3h0M638.4 49.9h0M639.1 43.9h0M639.9 50.1h0M640.7 51.0h0M641.4 62.1h0M642.1 37.5h0M642.7 51.2h0M643.3 67.2h0M643.9 46.4h0M644.5 49.6h0M645.6 42.7h0M646.0 28.0h0M646.8 46.6h0M647.2 59.1h0M648.1 43.0h0M648.6 29.5h0M649.4 50.2h0M650.3 48.4h0M650.8 57.5h0M651.6 56.7h0M652.1 45.2h0M652.9 51.9h0M653.6 30.4h0M654.3 59.1h0M654.9 50.1h0M655.8 59.0h0M656.6 58.9h0M657.2 45.7h0M657.5 47.1h0M658.4 40.1h0M659.0 28.5h0M659.8 47.6h0M660.3 50.4h0M661.3 38.3h0M661.8 55.9h0M662.8 51.0h0M663.0 57.5h0M663.9 45.5h0M664.6 35.8h0M665.5 60.7h0M666.1 59.1h0M666.5 52.0h0M667.3 48.9h0M668.2 50.4h0M668.7 51.7h0M669.3 48.1h0M670.3 33.3h0M671.0 60.6h0M671.4 38.2h0M672.2 49.5h0M673.1 49.7h0M673.4 55.2h0M674.4 36.7h0M675.1 64.2h0M675.7 58.8h0M676.4 59.8h0M677.1 64.6h0M677.7 44.3h0M678.4 28.6h0M678.9 55.2h0M679.7 62.2h0M680.5 60.7h0M681.1 44.0h0M681.9 48.2h0M682.4 51.8h0M683.3 31.2h0M683.9 42.3h0M684.3 42.5h0M685.3 64.2h0M685.8 42.2h0M686.4 63.9h0M687.1 48.5h0M687.9 31.9h0M688.7 69.9h0M689.2 38.6h0M689.9 54.1h0M690.8 64.7h0M691.3 42.7h0M692.3 35.8h0M692.6 58.1h0M693.5 48.4h0M694.1 35.7h0M695.0 37.1h0M695.6 40.9h0M696.3 54.1h0M696.7 41.8h0M697.7 51.0h0M698.2 60.7h0M699.1 56.9h0M699.8 58.5h0M700.1 56.5h0M700.8 28.6h0M701.8 56.3h0M702.6 47.5h0M703.3 43.0h0M703.7 33.5h0M704.6 28.5h0M704.9 33.2h0M705.6 43.8h0M706.5 32.4h0M707.2 35.9h0M708.0 37.8h0M708.4 50.4h0M709.2 40.9h0M710.2 42.3h0M710.5 56.8h0M711.3 40.7h0M712.0 52.2h0M712.9 36.0h0M713.2 49.6h0M714.1 47.6h0M714.7 48.2h0M715.4 42.0h0M716.0 36.5h0M716.8 43.8h0" stroke-width="3.2" stroke-linecap="round"/></g><g clip-path="url(#cC)"><path d="M435.9 54.6 436.7 55.0 437.2 55.4 437.8 55.5 438.4 58.9 439.2 53.7 439.9 53.1 440.7 55.5 441.6 54.9 442.2 55.0 442.6 55.0 443.2 54.0 443.9 50.7 444.8 54.4 445.4 53.7 446.3 52.9 446.7 55.4 447.5 54.5 448.4 53.1 449.0 51.8 449.6 52.1 450.5 53.2 450.8 54.4 451.5 52.9 452.4 54.4 453.1 50.1 454.0 54.7 454.7 58.6 455.2 52.2 455.9 56.2 456.6 57.2 457.0 49.1 457.9 59.9 458.5 59.9 459.2 52.9 459.8 60.6 460.4 60.9 461.5 62.7 462.1 62.1 462.8 62.7 463.3 62.0 464.0 61.0 464.6 61.3 465.5 61.9 466.3 58.0 466.9 64.3 467.7 61.2 468.1 67.5 469.0 62.2 469.4 62.3 470.3 62.2 470.7 63.9 471.6 61.9 472.3 62.1 472.9 61.6 473.6 61.3 474.5 61.8 475.0 60.8 475.7 59.8 476.2 60.8 477.0 60.8 478.0 60.9 478.7 59.8 479.1 56.6 480.0 60.3 480.7 60.0 481.1 59.8 481.8 57.1 482.7 60.5 483.2 59.0 484.2 59.1 484.6 59.7 485.5 60.7 486.1 60.1 486.6 57.8 487.6 60.2 488.0 59.9 488.6 60.7 489.2 57.7 490.1 62.2 490.9 60.8 491.4 59.4 492.4 60.4 492.8 60.0 493.8 57.8 494.0 58.2 494.8 69.5 495.5 58.3 496.3 59.4 497.0 54.7 497.7 59.9 498.6 55.7 499.1 57.1 499.8 56.8 500.4 56.1 501.3 56.9 501.8 57.3 502.6 55.9 503.4 55.4 503.9 57.2 504.5 58.9 505.1 57.2 506.2 55.9 506.8 55.5 507.5 54.8 507.9 55.4 508.7 53.6 509.6 54.4 509.9 55.5 510.9 53.4 511.5 52.0 512.0 52.2 512.8 52.6 513.3 54.0 514.3 58.8 515.0 56.2 515.3 57.1 516.2 58.4 517.1 64.7 517.5 62.5 518.3 64.6 519.2 65.6 519.7 66.4 520.2 66.0 521.3 65.0 521.9 66.8 522.5 66.3 523.0 68.1 523.9 66.0 524.4 65.7 525.0 64.6 525.7 64.9 526.3 66.0 527.1 65.9 527.8 63.6 528.7 65.2 529.3 64.8 530.0 65.9 530.8 65.0 531.2 66.7 532.0 66.1 532.5 66.6 533.4 67.1 533.9 66.1 534.6 66.4 535.3 69.8 536.1 64.7 537.0 66.1 537.4 66.5 538.4 64.5 538.8 60.0 539.5 63.8 540.3 61.2 540.8 63.4 541.6 63.6 542.4 64.1 543.2 61.4 543.5 63.2 544.6 63.5 545.1 63.9 545.8 68.5 546.2 64.6 547.4 66.5 547.7 74.9 548.6 64.6 549.2 66.0 550.1 60.8 550.6 65.5 551.5 65.6 551.8 66.5 552.7 68.0 553.4 69.2 554.0 67.8 554.8 69.3 555.4 68.8 556.0 67.9 556.8 68.6 557.3 68.3 558.1 68.6 558.8 68.4 559.4 68.6 560.2 67.6 561.0 70.2 561.4 67.7 562.2 68.1 562.7 68.4 563.7 68.0 564.1 68.3 564.9 67.9 565.7 67.2 566.4 62.1 566.8 65.3 568.0 66.3 568.3 66.9 569.2 64.3 569.7 63.9 570.6 66.3 571.1 65.2 571.8 64.9 572.6 65.4 573.3 61.7 574.0 66.7 574.7 61.1 575.2 68.5 575.8 63.1 576.6 65.3 577.3 65.0 578.1 64.1 578.7 64.8 579.3 63.8 579.9 65.6 580.9 64.3 581.3 63.1 582.2 59.5 583.0 62.6 583.6 67.2 584.1 62.9 584.9 66.3 585.8 62.2 586.1 63.6 587.1 62.0 587.7 61.8 588.4 62.8 589.0 62.1 589.6 59.8 590.5 62.9 590.9 58.8 592.0 62.9 592.6 66.9 593.1 64.3 593.9 63.0 594.6 62.2 595.5 66.3 595.7 62.6 596.5 62.3 597.3 62.2 598.1 63.5 598.8 62.9 599.3 61.2 599.8 67.3 600.8 63.6 601.4 63.3 601.9 62.9 602.9 62.6 603.5 62.7 604.1 60.2 604.7 60.6 605.5 61.4 606.1 62.1 606.9 63.1 607.8 60.7 608.3 60.7 608.8 60.4 609.7 56.5 610.6 58.3 611.2 55.4 611.8 54.5 612.6 50.1 613.2 51.8 613.9 51.8 614.4 53.8 615.0 53.3 616.0 51.0 616.6 51.1 617.4 52.3 617.8 51.5 618.8 50.6 619.1 51.1 620.2 49.5 620.9 46.5 621.1 49.1 621.9 49.8 623.0 49.3 623.6 54.3 624.2 51.0 624.6 49.5 625.2 50.4 626.0 48.4 627.1 49.4 627.7 49.8 628.2 54.9 629.0 50.3 629.8 48.7 630.2 49.4 631.1 48.8 631.5 50.1 632.2 49.5 632.8 49.7 633.5 48.6 634.4 50.5 634.8 47.0 635.8 49.1 636.3 49.2 637.3 54.3 637.6 48.2 638.4 49.8 639.1 48.8 639.9 49.1 640.7 49.0 641.4 49.0 642.1 48.4 642.7 47.2 643.3 50.0 643.9 53.4 644.5 49.1 645.6 49.0 646.0 47.7 646.8 49.5 647.2 49.9 648.1 47.2 648.6 48.4 649.4 48.7 650.3 48.7 650.8 49.7 651.6 47.5 652.1 49.6 652.9 49.9 653.6 48.3 654.3 50.1 654.9 49.4 655.8 50.1 656.6 53.9 657.2 50.0 657.5 49.9 658.4 49.2 659.0 48.9 659.8 50.2 660.3 50.1 661.3 46.2 661.8 50.7 662.8 50.1 663.0 50.7 663.9 50.1 664.6 48.5 665.5 51.9 666.1 50.8 666.5 50.4 667.3 51.6 668.2 50.5 668.7 45.9 669.3 45.7 670.3 49.3 671.0 51.3 671.4 49.2 672.2 49.5 673.1 50.5 673.4 46.1 674.4 48.8 675.1 50.8 675.7 52.4 676.4 50.0 677.1 51.4 677.7 48.8 678.4 48.0 678.9 50.1 679.7 49.5 680.5 49.5 681.1 48.7 681.9 48.8 682.4 49.1 683.3 47.8 683.9 48.2 684.3 48.2 685.3 49.0 685.8 45.3 686.4 49.5 687.1 47.1 687.9 47.1 688.7 50.5 689.2 47.5 689.9 51.4 690.8 47.7 691.3 47.3 692.3 47.4 692.6 44.4 693.5 47.0 694.1 46.0 695.0 46.8 695.6 47.1 696.3 47.3 696.7 50.4 697.7 47.3 698.2 48.8 699.1 47.7 699.8 43.7 700.1 46.7 700.8 45.9 701.8 46.0 702.6 47.2 703.3 46.1 703.7 45.7 704.6 45.2 704.9 45.5 705.6 50.0 706.5 45.4 707.2 45.2 708.0 46.1 708.4 46.2 709.2 46.5 710.2 45.8 710.5 46.5 711.3 46.1 712.0 47.0 712.9 45.3 713.2 46.5 714.1 47.2 714.7 46.2 715.4 43.6 716.0 43.1 716.8 46.0" stroke="#737373" stroke-width="3.4" fill="none" stroke-linejoin="round"/></g><g stroke="#000" stroke-width="1.2"><circle cx="443.3" cy="54.7" r="2.2" fill="#fff"/><circle cx="459.6" cy="62.1" r="2.2" fill="#fff"/><circle cx="475.8" cy="62.1" r="2.2" fill="#fff"/><circle cx="492.0" cy="60.0" r="2.2" fill="#fff"/><circle cx="508.2" cy="56.1" r="2.2" fill="#fff"/><circle cx="524.4" cy="64.4" r="2.2" fill="#fff"/><circle cx="540.6" cy="65.8" r="2.2" fill="#fff"/><circle cx="556.8" cy="71.8" r="2.2" fill="#fff"/><circle cx="573.1" cy="67.4" r="2.2" fill="#fff"/><circle cx="589.7" cy="63.7" r="2.2" fill="#fff"/><circle cx="605.9" cy="61.4" r="2.2" fill="#fff"/><circle cx="622.1" cy="51.0" r="2.2" fill="#fff"/><circle cx="638.6" cy="50.5" r="2.2" fill="#fff"/><circle cx="654.5" cy="48.4" r="2.2" fill="#fff"/><circle cx="671.0" cy="51.4" r="2.2" fill="#fff"/><circle cx="687.0" cy="50.0" r="2.2" fill="#fff"/><circle cx="703.4" cy="45.6" r="2.2" fill="#fff"/></g><g clip-path="url(#cD)" stroke="#ed869c" fill="none"><path d="M435.9 167.1V189.8M436.7 177.7V199.0M437.2 176.5V198.7M437.8 175.2V197.0M438.4 198.9V219.0M439.2 173.2V194.9M439.9 177.6V197.8M440.7 166.2V187.1M441.6 171.7V193.9M442.2 181.4V201.3M442.6 181.9V201.6M443.2 173.3V195.7M443.9 179.3V200.2M444.8 176.3V196.0M445.4 156.9V177.1M446.3 151.6V171.7M446.7 196.4V219.0M447.5 182.5V203.4M448.4 172.7V195.4M449.0 156.9V177.8M449.6 160.3V183.1M450.5 186.2V208.9M450.8 150.2V171.5M451.5 170.1V192.2M452.4 183.1V203.2M453.1 176.6V196.1M454.0 182.8V204.2M454.7 176.2V195.4M455.2 200.7V221.6M455.9 167.9V189.4M456.6 165.0V187.1M457.0 181.2V203.8M457.9 194.8V214.7M458.5 179.5V202.0M459.2 191.8V212.8M459.8 176.6V198.1M460.4 170.8V191.6M461.5 195.3V217.7M462.1 198.1V218.3M462.8 198.3V217.4M463.3 177.4V199.7M464.0 170.7V192.3M464.6 170.4V192.3M465.5 180.9V200.4M466.3 188.6V208.4M466.9 187.1V208.6M467.7 170.4V192.4M468.1 186.6V208.2M469.0 184.9V206.3M469.4 185.5V207.2M470.3 185.4V205.0M470.7 182.9V203.7M471.6 190.8V211.1M472.3 185.3V207.2M472.9 186.6V207.6M473.6 177.0V198.9M474.5 187.6V209.3M475.0 182.0V204.6M475.7 162.4V184.8M476.2 189.4V208.6M477.0 180.6V202.3M478.0 192.7V213.2M478.7 182.4V201.8M479.1 182.2V203.2M480.0 184.4V206.7M480.7 182.2V204.4M481.1 179.3V198.7M481.8 165.9V185.7M482.7 200.5V222.3M483.2 166.4V189.2M484.2 174.8V194.2M484.6 184.5V203.9M485.5 180.6V202.4M486.1 182.6V204.0M486.6 184.1V206.4M487.6 190.1V209.9M488.0 180.0V201.0M488.6 200.0V222.2M489.2 167.3V187.9M490.1 179.4V200.0M490.9 174.2V193.3M491.4 170.8V193.0M492.4 179.4V200.2M492.8 191.0V211.5M493.8 169.0V190.6M494.0 168.5V190.9M494.8 182.4V204.9M495.5 181.6V201.9M496.3 194.7V216.1M497.0 185.9V206.5M497.7 177.0V199.4M498.6 171.5V193.6M499.1 177.0V198.6M499.8 172.7V195.0M500.4 166.0V187.1M501.3 179.2V200.4M501.8 178.0V197.7M502.6 176.2V198.0M503.4 174.9V195.0M503.9 195.0V216.2M504.5 186.2V205.2M505.1 187.6V208.2M506.2 171.8V193.2M506.8 167.5V189.0M507.5 174.7V196.0M507.9 180.4V200.4M508.7 173.6V195.2M509.6 174.9V196.5M509.9 186.2V207.6M510.9 179.4V199.9M511.5 166.8V186.4M512.0 171.0V192.2M512.8 169.1V188.3M513.3 175.2V197.8M514.3 162.7V183.1M515.0 173.1V193.2M515.3 181.5V202.3M516.2 176.3V195.8M517.1 160.9V183.4M517.5 163.9V186.8M518.3 171.8V194.1M519.2 175.7V197.0M519.7 178.4V201.1M520.2 169.9V190.2M521.3 158.0V178.8M521.9 185.3V205.0M522.5 173.7V194.4M523.0 173.6V196.4M523.9 173.1V194.7M524.4 160.0V181.2M525.0 167.0V188.2M525.7 172.4V193.9M526.3 180.0V201.4M527.1 170.7V191.5M527.8 146.3V167.4M528.7 168.2V187.6M529.3 173.3V194.0M530.0 182.0V203.7M530.8 177.4V197.3M531.2 193.9V214.0M532.0 183.5V205.7M532.5 189.4V209.0M533.4 185.6V205.3M533.9 161.7V183.9M534.6 185.1V204.6M535.3 182.3V202.5M536.1 169.6V192.2M537.0 181.0V201.7M537.4 178.3V200.6M538.4 169.3V191.4M538.8 173.9V193.0M539.5 171.8V191.7M540.3 175.0V197.7M540.8 169.8V190.1M541.6 179.3V199.9M542.4 154.2V176.9M543.2 171.9V191.4M543.5 156.5V179.4M544.6 169.1V190.6M545.1 179.0V200.5M545.8 175.6V194.6M546.2 173.1V194.6M547.4 174.8V197.1M547.7 190.4V211.0M548.6 165.1V184.4M549.2 184.6V204.1M550.1 161.5V180.8M550.6 171.5V192.1M551.5 177.6V199.8M551.8 169.4V188.6M552.7 179.8V200.4M553.4 185.4V206.0M554.0 167.1V187.7M554.8 178.4V199.5M555.4 175.4V196.6M556.0 160.5V180.3M556.8 176.1V198.3M557.3 170.5V191.6M558.1 191.5V211.9M558.8 168.4V191.3M559.4 194.1V215.9M560.2 173.1V192.8M561.0 195.6V218.5M561.4 182.6V203.9M562.2 182.1V202.4M562.7 185.6V205.6M563.7 186.7V206.0M564.1 191.2V211.2M564.9 194.2V214.4M565.7 176.1V196.4M566.4 165.7V188.7M566.8 155.1V176.5M568.0 175.3V195.1M568.3 186.1V206.6M569.2 182.0V202.7M569.7 180.0V199.3M570.6 174.6V195.4M571.1 171.6V192.7M571.8 174.3V197.0M572.6 181.9V202.6M573.3 160.3V182.0M574.0 184.7V206.4M574.7 164.3V184.0M575.2 176.2V197.5M575.8 171.6V192.4M576.6 174.6V194.2M577.3 168.0V187.1M578.1 164.8V187.8M578.7 175.5V194.9M579.3 165.4V187.9M579.9 200.4V220.9M580.9 173.1V192.4M581.3 165.2V188.1M582.2 169.2V190.8M583.0 164.3V185.0M583.6 150.4V172.7M584.1 171.4V193.3M584.9 177.4V198.0M585.8 159.0V180.8M586.1 173.7V195.7M587.1 162.9V182.6M587.7 173.3V195.2M588.4 176.8V199.5M589.0 178.5V200.3M589.6 177.8V200.0M590.5 166.2V189.2M590.9 182.1V204.3M592.0 169.8V190.7M592.6 177.4V198.7M593.1 180.5V202.6M593.9 170.9V192.4M594.6 162.4V181.7M595.5 181.0V200.2M595.7 163.6V183.7M596.5 164.7V187.0M597.3 163.9V183.7M598.1 180.1V200.3M598.8 169.2V191.5M599.3 150.1V169.7M599.8 179.1V199.2M600.8 192.1V212.1M601.4 189.8V209.0M601.9 165.1V187.1M602.9 172.2V192.4M603.5 176.1V196.8M604.1 180.0V200.3M604.7 172.0V191.2M605.5 159.4V181.8M606.1 179.0V198.6M606.9 177.4V197.6M607.8 157.6V179.5M608.3 167.9V188.3M608.8 173.9V194.9M609.7 171.7V192.0M610.6 176.6V197.8M611.2 179.9V200.1M611.8 177.3V198.1M612.6 171.9V190.9M613.2 159.9V179.0M613.9 178.4V199.4M614.4 183.7V206.0M615.0 189.1V212.1M616.0 169.5V191.8M616.6 169.9V191.0M617.4 184.0V205.5M617.8 183.7V205.4M618.8 172.5V194.4M619.1 175.5V198.4M620.2 162.0V182.3M620.9 174.9V195.7M621.1 160.4V182.5M621.9 168.1V188.0M623.0 168.5V187.9M623.6 163.5V186.1M624.2 149.1V168.2M624.6 160.0V182.5M625.2 171.2V193.9M626.0 168.8V188.5M627.1 164.3V186.3M627.7 173.3V193.4M628.2 175.8V195.9M629.0 175.9V198.8M629.8 159.8V182.4M630.2 168.2V190.2M631.1 169.9V190.7M631.5 163.5V186.4M632.2 158.2V179.5M632.8 171.1V194.0M633.5 163.9V185.8M634.4 194.9V214.1M634.8 171.3V193.5M635.8 169.9V192.2M636.3 168.1V190.6M637.3 190.8V212.3M637.6 164.3V183.5M638.4 170.3V192.7M639.1 165.1V185.8M639.9 171.9V191.6M640.7 172.7V192.5M641.4 183.8V203.6M642.1 158.0V180.2M642.7 173.1V192.4M643.3 187.5V210.1M643.9 168.4V187.5M644.5 170.3V192.2M645.6 164.3V184.2M646.0 149.1V170.1M646.8 168.3V188.0M647.2 179.4V202.0M648.1 164.8V184.4M648.6 150.7V171.5M649.4 171.1V192.5M650.3 169.6V190.4M650.8 179.2V199.0M651.6 178.3V198.4M652.1 165.5V188.2M652.9 173.7V193.2M653.6 152.5V171.6M654.3 179.4V202.0M654.9 170.4V192.9M655.8 179.7V201.5M656.6 180.0V200.9M657.2 165.9V188.7M657.5 168.4V189.0M658.4 162.2V181.2M659.0 149.8V170.5M659.8 168.6V189.7M660.3 171.4V192.6M661.3 158.6V181.1M661.8 177.8V197.1M662.8 171.4V193.8M663.0 178.6V199.7M663.9 166.2V188.1M664.6 157.0V177.7M665.5 182.2V202.4M666.1 180.5V200.8M666.5 173.5V193.6M667.3 170.1V190.9M668.2 171.3V192.6M668.7 172.2V194.5M669.3 169.8V189.5M670.3 154.5V175.3M671.0 181.7V202.8M671.4 158.7V181.0M672.2 170.2V192.0M673.1 170.5V192.0M673.4 175.9V197.6M674.4 157.9V178.7M675.1 184.7V207.0M675.7 179.2V201.5M676.4 180.8V202.0M677.1 186.5V205.9M677.7 165.5V186.2M678.4 150.2V170.3M678.9 176.9V196.7M679.7 183.7V203.9M680.5 181.1V203.4M681.1 165.4V185.7M681.9 169.4V190.2M682.4 173.2V193.7M683.3 152.9V172.7M683.9 163.2V184.5M684.3 163.8V184.5M685.3 184.4V207.1M685.8 163.1V184.5M686.4 184.0V207.0M687.1 168.9V191.4M687.9 153.0V174.0M688.7 192.0V211.1M689.2 160.3V180.1M689.9 176.0V195.4M690.8 185.3V207.3M691.3 164.5V184.1M692.3 156.6V178.2M692.6 179.5V199.8M693.5 169.6V190.5M694.1 156.3V178.3M695.0 158.6V178.8M695.6 162.7V182.4M696.3 175.7V195.8M696.7 162.1V184.8M697.7 172.0V193.2M698.2 182.3V202.4M699.1 178.7V198.3M699.8 180.5V199.8M700.1 177.9V198.3M700.8 149.5V170.9M701.8 177.5V198.3M702.6 167.9V190.2M703.3 163.1V186.1M703.7 154.5V175.8M704.6 149.9V170.3M704.9 153.7V175.9M705.6 165.7V185.1M706.5 153.0V175.1M707.2 156.3V178.8M708.0 158.4V180.5M708.4 172.3V191.7M709.2 161.8V183.1M710.2 162.8V185.0M710.5 178.0V198.7M711.3 161.1V183.5M712.0 173.9V193.6M712.9 157.0V178.2M713.2 170.6V191.8M714.1 168.2V190.3M714.7 169.5V190.2M715.4 163.6V183.6M716.0 157.2V179.0M716.8 165.6V185.1" stroke-width="1.6"/><path d="M435.9 178.4h0M436.7 188.4h0M437.2 187.6h0M437.8 186.1h0M438.4 208.9h0M439.2 184.1h0M439.9 187.7h0M440.7 176.7h0M441.6 182.8h0M442.2 191.4h0M442.6 191.7h0M443.2 184.5h0M443.9 189.7h0M444.8 186.2h0M445.4 167.0h0M446.3 161.7h0M446.7 207.7h0M447.5 193.0h0M448.4 184.0h0M449.0 167.4h0M449.6 171.7h0M450.5 197.6h0M450.8 160.9h0M451.5 181.1h0M452.4 193.1h0M453.1 186.4h0M454.0 193.5h0M454.7 185.8h0M455.2 211.2h0M455.9 178.7h0M456.6 176.1h0M457.0 192.5h0M457.9 204.8h0M458.5 190.7h0M459.2 202.3h0M459.8 187.4h0M460.4 181.2h0M461.5 206.5h0M462.1 208.2h0M462.8 207.8h0M463.3 188.5h0M464.0 181.5h0M464.6 181.4h0M465.5 190.6h0M466.3 198.5h0M466.9 197.8h0M467.7 181.4h0M468.1 197.4h0M469.0 195.6h0M469.4 196.3h0M470.3 195.2h0M470.7 193.3h0M471.6 201.0h0M472.3 196.2h0M472.9 197.1h0M473.6 188.0h0M474.5 198.4h0M475.0 193.3h0M475.7 173.6h0M476.2 199.0h0M477.0 191.5h0M478.0 202.9h0M478.7 192.1h0M479.1 192.7h0M480.0 195.5h0M480.7 193.3h0M481.1 189.0h0M481.8 175.8h0M482.7 211.4h0M483.2 177.8h0M484.2 184.5h0M484.6 194.2h0M485.5 191.5h0M486.1 193.3h0M486.6 195.2h0M487.6 200.0h0M488.0 190.5h0M488.6 211.1h0M489.2 177.6h0M490.1 189.7h0M490.9 183.8h0M491.4 181.9h0M492.4 189.8h0M492.8 201.2h0M493.8 179.8h0M494.0 179.7h0M494.8 193.6h0M495.5 191.7h0M496.3 205.4h0M497.0 196.2h0M497.7 188.2h0M498.6 182.6h0M499.1 187.8h0M499.8 183.8h0M500.4 176.6h0M501.3 189.8h0M501.8 187.9h0M502.6 187.1h0M503.4 185.0h0M503.9 205.6h0M504.5 195.7h0M505.1 197.9h0M506.2 182.5h0M506.8 178.3h0M507.5 185.3h0M507.9 190.4h0M508.7 184.4h0M509.6 185.7h0M509.9 196.9h0M510.9 189.6h0M511.5 176.6h0M512.0 181.6h0M512.8 178.7h0M513.3 186.5h0M514.3 172.9h0M515.0 183.1h0M515.3 191.9h0M516.2 186.0h0M517.1 172.2h0M517.5 175.4h0M518.3 183.0h0M519.2 186.4h0M519.7 189.7h0M520.2 180.0h0M521.3 168.4h0M521.9 195.2h0M522.5 184.0h0M523.0 185.0h0M523.9 183.9h0M524.4 170.6h0M525.0 177.6h0M525.7 183.2h0M526.3 190.7h0M527.1 181.1h0M527.8 156.9h0M528.7 177.9h0M529.3 183.7h0M530.0 192.8h0M530.8 187.3h0M531.2 203.9h0M532.0 194.6h0M532.5 199.2h0M533.4 195.5h0M533.9 172.8h0M534.6 194.8h0M535.3 192.4h0M536.1 180.9h0M537.0 191.4h0M537.4 189.5h0M538.4 180.3h0M538.8 183.5h0M539.5 181.7h0M540.3 186.3h0M540.8 180.0h0M541.6 189.6h0M542.4 165.5h0M543.2 181.7h0M543.5 167.9h0M544.6 179.9h0M545.1 189.7h0M545.8 185.1h0M546.2 183.9h0M547.4 185.9h0M547.7 200.7h0M548.6 174.7h0M549.2 194.4h0M550.1 171.1h0M550.6 181.8h0M551.5 188.7h0M551.8 179.0h0M552.7 190.1h0M553.4 195.7h0M554.0 177.4h0M554.8 188.9h0M555.4 186.0h0M556.0 170.4h0M556.8 187.2h0M557.3 181.1h0M558.1 201.7h0M558.8 179.8h0M559.4 205.0h0M560.2 182.9h0M561.0 207.0h0M561.4 193.2h0M562.2 192.2h0M562.7 195.6h0M563.7 196.4h0M564.1 201.2h0M564.9 204.3h0M565.7 186.2h0M566.4 177.2h0M566.8 165.8h0M568.0 185.2h0M568.3 196.3h0M569.2 192.4h0M569.7 189.6h0M570.6 185.0h0M571.1 182.2h0M571.8 185.6h0M572.6 192.2h0M573.3 171.1h0M574.0 195.6h0M574.7 174.1h0M575.2 186.8h0M575.8 182.0h0M576.6 184.4h0M577.3 177.6h0M578.1 176.3h0M578.7 185.2h0M579.3 176.6h0M579.9 210.7h0M580.9 182.8h0M581.3 176.7h0M582.2 180.0h0M583.0 174.7h0M583.6 161.5h0M584.1 182.4h0M584.9 187.7h0M585.8 169.9h0M586.1 184.7h0M587.1 172.8h0M587.7 184.3h0M588.4 188.1h0M589.0 189.4h0M589.6 188.9h0M590.5 177.7h0M590.9 193.2h0M592.0 180.2h0M592.6 188.0h0M593.1 191.5h0M593.9 181.6h0M594.6 172.0h0M595.5 190.6h0M595.7 173.7h0M596.5 175.9h0M597.3 173.8h0M598.1 190.2h0M598.8 180.3h0M599.3 159.9h0M599.8 189.1h0M600.8 202.1h0M601.4 199.4h0M601.9 176.1h0M602.9 182.3h0M603.5 186.4h0M604.1 190.1h0M604.7 181.6h0M605.5 170.6h0M606.1 188.8h0M606.9 187.5h0M607.8 168.6h0M608.3 178.1h0M608.8 184.4h0M609.7 181.9h0M610.6 187.2h0M611.2 190.0h0M611.8 187.7h0M612.6 181.4h0M613.2 169.5h0M613.9 188.9h0M614.4 194.8h0M615.0 200.6h0M616.0 180.7h0M616.6 180.5h0M617.4 194.8h0M617.8 194.6h0M618.8 183.5h0M619.1 187.0h0M620.2 172.2h0M620.9 185.3h0M621.1 171.5h0M621.9 178.1h0M623.0 178.2h0M623.6 174.8h0M624.2 158.7h0M624.6 171.2h0M625.2 182.6h0M626.0 178.7h0M627.1 175.3h0M627.7 183.4h0M628.2 185.9h0M629.0 187.4h0M629.8 171.1h0M630.2 179.2h0M631.1 180.3h0M631.5 175.0h0M632.2 168.8h0M632.8 182.5h0M633.5 174.9h0M634.4 204.5h0M634.8 182.4h0M635.8 181.1h0M636.3 179.3h0M637.3 201.5h0M637.6 173.9h0M638.4 181.5h0M639.1 175.5h0M639.9 181.7h0M640.7 182.6h0M641.4 193.7h0M642.1 169.1h0M642.7 182.8h0M643.3 198.8h0M643.9 178.0h0M644.5 181.2h0M645.6 174.3h0M646.0 159.6h0M646.8 178.2h0M647.2 190.7h0M648.1 174.6h0M648.6 161.1h0M649.4 181.8h0M650.3 180.0h0M650.8 189.1h0M651.6 188.3h0M652.1 176.8h0M652.9 183.5h0M653.6 162.0h0M654.3 190.7h0M654.9 181.7h0M655.8 190.6h0M656.6 190.5h0M657.2 177.3h0M657.5 178.7h0M658.4 171.7h0M659.0 160.1h0M659.8 179.2h0M660.3 182.0h0M661.3 169.9h0M661.8 187.5h0M662.8 182.6h0M663.0 189.1h0M663.9 177.1h0M664.6 167.4h0M665.5 192.3h0M666.1 190.7h0M666.5 183.6h0M667.3 180.5h0M668.2 182.0h0M668.7 183.3h0M669.3 179.7h0M670.3 164.9h0M671.0 192.2h0M671.4 169.8h0M672.2 181.1h0M673.1 181.3h0M673.4 186.8h0M674.4 168.3h0M675.1 195.8h0M675.7 190.4h0M676.4 191.4h0M677.1 196.2h0M677.7 175.9h0M678.4 160.2h0M678.9 186.8h0M679.7 193.8h0M680.5 192.3h0M681.1 175.6h0M681.9 179.8h0M682.4 183.4h0M683.3 162.8h0M683.9 173.9h0M684.3 174.1h0M685.3 195.8h0M685.8 173.8h0M686.4 195.5h0M687.1 180.1h0M687.9 163.5h0M688.7 201.5h0M689.2 170.2h0M689.9 185.7h0M690.8 196.3h0M691.3 174.3h0M692.3 167.4h0M692.6 189.7h0M693.5 180.0h0M694.1 167.3h0M695.0 168.7h0M695.6 172.5h0M696.3 185.7h0M696.7 173.4h0M697.7 182.6h0M698.2 192.3h0M699.1 188.5h0M699.8 190.1h0M700.1 188.1h0M700.8 160.2h0M701.8 187.9h0M702.6 179.1h0M703.3 174.6h0M703.7 165.1h0M704.6 160.1h0M704.9 164.8h0M705.6 175.4h0M706.5 164.0h0M707.2 167.5h0M708.0 169.4h0M708.4 182.0h0M709.2 172.5h0M710.2 173.9h0M710.5 188.4h0M711.3 172.3h0M712.0 183.8h0M712.9 167.6h0M713.2 181.2h0M714.1 179.2h0M714.7 179.8h0M715.4 173.6h0M716.0 168.1h0M716.8 175.4h0" stroke-width="3.2" stroke-linecap="round"/></g><g clip-path="url(#cD)"><path d="M435.9 186.2 436.7 186.6 437.2 187.0 437.8 187.1 438.4 190.5 439.2 185.3 439.9 184.7 440.7 187.1 441.6 186.5 442.2 186.6 442.6 186.6 443.2 185.6 443.9 182.3 444.8 186.0 445.4 185.3 446.3 184.5 446.7 187.0 447.5 186.1 448.4 184.7 449.0 183.4 449.6 183.7 450.5 184.8 450.8 186.0 451.5 184.5 452.4 186.0 453.1 181.7 454.0 186.3 454.7 190.2 455.2 183.8 455.9 187.8 456.6 188.8 457.0 180.7 457.9 191.5 458.5 191.5 459.2 184.5 459.8 192.2 460.4 192.5 461.5 194.3 462.1 193.7 462.8 194.3 463.3 193.6 464.0 192.6 464.6 192.9 465.5 193.5 466.3 189.6 466.9 195.9 467.7 192.8 468.1 199.1 469.0 193.8 469.4 193.9 470.3 193.8 470.7 195.5 471.6 193.5 472.3 193.7 472.9 193.2 473.6 192.9 474.5 193.4 475.0 192.4 475.7 191.4 476.2 192.4 477.0 192.4 478.0 192.5 478.7 191.4 479.1 188.2 480.0 191.9 480.7 191.6 481.1 191.4 481.8 188.7 482.7 192.1 483.2 190.6 484.2 190.7 484.6 191.3 485.5 192.3 486.1 191.7 486.6 189.4 487.6 191.8 488.0 191.5 488.6 192.3 489.2 189.3 490.1 193.8 490.9 192.4 491.4 191.0 492.4 192.0 492.8 191.6 493.8 189.4 494.0 189.8 494.8 201.1 495.5 189.9 496.3 191.0 497.0 186.3 497.7 191.5 498.6 187.3 499.1 188.7 499.8 188.4 500.4 187.7 501.3 188.5 501.8 188.9 502.6 187.5 503.4 187.0 503.9 188.8 504.5 190.5 505.1 188.8 506.2 187.5 506.8 187.1 507.5 186.4 507.9 187.0 508.7 185.2 509.6 186.0 509.9 187.1 510.9 185.0 511.5 183.6 512.0 183.8 512.8 183.7 513.3 184.2 514.3 187.3 515.0 183.4 515.3 183.7 516.2 183.6 517.1 188.2 517.5 185.4 518.3 185.9 519.2 185.5 519.7 185.7 520.2 185.3 521.3 184.3 521.9 186.1 522.5 185.6 523.0 187.4 523.9 185.3 524.4 185.0 525.0 183.9 525.7 184.2 526.3 185.3 527.1 185.2 527.8 182.9 528.7 184.5 529.3 184.1 530.0 185.2 530.8 184.3 531.2 186.0 532.0 185.4 532.5 185.9 533.4 186.4 533.9 185.4 534.6 185.7 535.3 189.1 536.1 184.0 537.0 185.4 537.4 185.8 538.4 183.8 538.8 179.3 539.5 183.1 540.3 180.5 540.8 182.7 541.6 182.9 542.4 183.4 543.2 180.7 543.5 182.5 544.6 182.8 545.1 183.2 545.8 187.8 546.2 183.9 547.4 185.8 547.7 194.2 548.6 183.9 549.2 185.3 550.1 180.1 550.6 184.8 551.5 184.9 551.8 185.8 552.7 187.3 553.4 188.5 554.0 187.1 554.8 188.6 555.4 188.1 556.0 187.2 556.8 187.9 557.3 187.6 558.1 187.9 558.8 187.7 559.4 187.9 560.2 186.9 561.0 189.5 561.4 187.0 562.2 187.4 562.7 187.7 563.7 187.3 564.1 187.6 564.9 187.2 565.7 186.5 566.4 181.4 566.8 184.6 568.0 185.6 568.3 186.2 569.2 183.6 569.7 183.2 570.6 185.6 571.1 184.5 571.8 184.2 572.6 184.7 573.3 181.0 574.0 186.0 574.7 180.4 575.2 187.8 575.8 182.4 576.6 184.6 577.3 184.3 578.1 183.4 578.7 184.1 579.3 183.1 579.9 184.9 580.9 183.6 581.3 182.4 582.2 178.8 583.0 181.9 583.6 186.5 584.1 182.2 584.9 185.6 585.8 181.5 586.1 182.9 587.1 181.3 587.7 181.1 588.4 182.1 589.0 181.4 589.6 179.1 590.5 182.2 590.9 178.1 592.0 182.2 592.6 186.2 593.1 183.6 593.9 182.3 594.6 181.5 595.5 185.6 595.7 181.9 596.5 181.6 597.3 181.5 598.1 182.8 598.8 182.2 599.3 180.5 599.8 186.6 600.8 182.9 601.4 182.6 601.9 182.2 602.9 181.9 603.5 182.0 604.1 179.5 604.7 179.9 605.5 180.7 606.1 181.4 606.9 182.4 607.8 180.7 608.3 181.6 608.8 182.5 609.7 180.2 610.6 183.9 611.2 182.3 611.8 182.6 612.6 179.9 613.2 182.8 613.9 183.4 614.4 185.4 615.0 184.9 616.0 182.6 616.6 182.7 617.4 183.9 617.8 183.1 618.8 182.2 619.1 182.7 620.2 181.1 620.9 178.1 621.1 180.7 621.9 181.4 623.0 180.9 623.6 185.9 624.2 182.6 624.6 181.1 625.2 182.0 626.0 180.0 627.1 181.0 627.7 181.4 628.2 186.5 629.0 181.9 629.8 180.3 630.2 181.0 631.1 180.4 631.5 181.7 632.2 181.1 632.8 181.3 633.5 180.2 634.4 182.1 634.8 178.6 635.8 180.7 636.3 180.8 637.3 185.9 637.6 179.8 638.4 181.4 639.1 180.4 639.9 180.7 640.7 180.6 641.4 180.6 642.1 180.0 642.7 178.8 643.3 181.6 643.9 185.0 644.5 180.7 645.6 180.6 646.0 179.3 646.8 181.1 647.2 181.5 648.1 178.8 648.6 180.0 649.4 180.3 650.3 180.3 650.8 181.3 651.6 179.1 652.1 181.2 652.9 181.5 653.6 179.9 654.3 181.7 654.9 181.0 655.8 181.7 656.6 185.5 657.2 181.6 657.5 181.5 658.4 180.8 659.0 180.5 659.8 181.8 660.3 181.7 661.3 177.8 661.8 182.3 662.8 181.7 663.0 182.3 663.9 181.7 664.6 180.1 665.5 183.5 666.1 182.4 666.5 182.0 667.3 183.2 668.2 182.1 668.7 177.5 669.3 177.3 670.3 180.9 671.0 182.9 671.4 180.8 672.2 181.1 673.1 182.1 673.4 177.7 674.4 180.4 675.1 182.4 675.7 184.0 676.4 181.6 677.1 183.0 677.7 180.4 678.4 179.6 678.9 181.7 679.7 181.1 680.5 181.1 681.1 180.3 681.9 180.4 682.4 180.7 683.3 179.4 683.9 179.8 684.3 179.8 685.3 180.6 685.8 176.9 686.4 181.1 687.1 178.7 687.9 178.7 688.7 182.1 689.2 179.1 689.9 183.0 690.8 179.3 691.3 178.9 692.3 179.0 692.6 176.0 693.5 178.6 694.1 177.6 695.0 178.4 695.6 178.7 696.3 178.9 696.7 182.0 697.7 178.9 698.2 180.4 699.1 179.3 699.8 175.3 700.1 178.3 700.8 177.5 701.8 177.6 702.6 178.8 703.3 177.7 703.7 177.3 704.6 176.8 704.9 177.1 705.6 181.6 706.5 177.0 707.2 176.8 708.0 177.7 708.4 177.8 709.2 178.1 710.2 177.4 710.5 178.1 711.3 177.7 712.0 178.6 712.9 176.9 713.2 178.1 714.1 178.8 714.7 177.8 715.4 175.2 716.0 174.7 716.8 177.6" stroke="#737373" stroke-width="3.4" fill="none" stroke-linejoin="round"/></g><g stroke="#000" stroke-width="1.2"><circle cx="443.3" cy="185.7" r="2.2" fill="#fff"/><circle cx="459.6" cy="193.5" r="2.2" fill="#fff"/><circle cx="475.8" cy="193.5" r="2.2" fill="#fff"/><circle cx="492.0" cy="191.5" r="2.2" fill="#fff"/><circle cx="508.2" cy="187.1" r="2.2" fill="#fff"/><circle cx="524.4" cy="184.5" r="2.2" fill="#fff"/><circle cx="540.6" cy="184.7" r="2.2" fill="#fff"/><circle cx="556.8" cy="190.8" r="2.2" fill="#fff"/><circle cx="573.1" cy="186.4" r="2.2" fill="#fff"/><circle cx="589.7" cy="182.9" r="2.2" fill="#fff"/><circle cx="605.9" cy="183.8" r="2.2" fill="#fff"/><circle cx="622.1" cy="182.2" r="2.2" fill="#fff"/><circle cx="638.6" cy="181.7" r="2.2" fill="#fff"/><circle cx="654.5" cy="179.4" r="2.2" fill="#fff"/><circle cx="671.0" cy="182.7" r="2.2" fill="#fff"/><circle cx="687.0" cy="181.3" r="2.2" fill="#fff"/><circle cx="703.4" cy="176.9" r="2.2" fill="#fff"/></g><g clip-path="url(#cE)" stroke="#ed869c" fill="none"><path d="M435.9 300.6V323.3M436.7 311.3V332.6M437.2 310.1V332.4M437.8 308.9V330.7M438.4 332.7V352.9M439.2 307.2V328.8M439.9 311.6V331.8M440.7 300.4V321.2M441.6 305.9V328.2M442.2 315.7V335.6M442.6 316.2V335.9M443.2 307.8V330.2M443.9 314.0V334.8M444.8 311.2V330.9M445.4 292.0V312.2M446.3 286.9V307.1M446.7 331.9V354.5M447.5 318.2V339.1M448.4 308.6V331.3M449.0 293.0V313.9M449.6 296.6V319.4M450.5 322.5V345.1M450.8 286.4V307.6M451.5 306.0V328.1M452.4 318.6V338.8M453.1 311.9V331.3M454.0 316.9V338.3M454.7 309.3V328.5M455.2 333.2V354.1M455.9 299.4V320.9M456.6 295.8V317.9M457.0 311.6V334.2M457.9 324.3V344.1M458.5 308.4V330.9M459.2 320.0V341.0M459.8 304.3V325.8M460.4 298.2V319.0M461.5 322.7V345.1M462.1 325.5V345.7M462.8 325.7V344.8M463.3 304.8V327.1M464.0 298.1V319.7M464.6 297.8V319.7M465.5 308.3V327.8M466.3 316.0V335.8M466.9 314.5V336.0M467.7 297.8V319.8M468.1 314.0V335.6M469.0 312.3V333.7M469.4 312.9V334.6M470.3 312.8V332.4M470.7 310.5V331.3M471.6 318.5V338.8M472.3 313.1V335.1M472.9 314.5V335.6M473.6 305.2V327.0M474.5 315.9V337.6M475.0 310.4V333.0M475.7 290.9V313.3M476.2 318.0V337.2M477.0 309.4V331.1M478.0 321.7V342.2M478.7 311.6V331.0M479.1 311.5V332.4M480.0 313.8V336.1M480.7 311.7V333.8M481.1 308.8V328.2M481.8 295.4V315.2M482.7 330.0V351.8M483.2 296.0V318.8M484.2 304.5V323.8M484.6 314.2V333.6M485.5 310.3V332.1M486.1 312.3V333.8M486.6 313.9V336.2M487.6 320.0V339.8M488.0 309.9V330.9M488.6 329.9V352.1M489.2 297.3V317.8M490.1 309.4V330.0M490.9 304.4V323.5M491.4 301.1V323.3M492.4 309.9V330.7M492.8 321.5V342.0M493.8 299.7V321.4M494.0 299.3V321.7M494.8 313.4V335.8M495.5 312.6V333.0M496.3 326.0V347.4M497.0 317.3V337.8M497.7 308.6V330.9M498.6 303.2V325.4M499.1 308.8V330.4M499.8 304.6V326.9M500.4 298.2V319.2M501.3 311.5V332.8M501.8 310.5V330.2M502.6 308.9V330.7M503.4 307.8V327.9M503.9 328.0V349.2M504.5 319.4V338.4M505.1 320.9V341.5M506.2 305.4V326.8M506.8 301.3V322.8M507.5 308.6V329.9M507.9 314.4V334.4M508.7 307.9V329.5M509.6 309.4V331.0M509.9 320.8V342.2M510.9 314.7V335.2M511.5 302.6V322.2M512.0 307.2V328.5M512.8 306.5V325.7M513.3 313.9V336.6M514.3 303.5V323.9M515.0 314.6V334.7M515.3 323.4V344.2M516.2 319.0V338.5M517.1 304.5V327.1M517.5 308.0V330.9M518.3 317.0V339.3M519.2 322.5V343.8M519.7 325.8V348.6M520.2 317.4V337.8M521.3 305.7V326.5M521.9 333.1V352.8M522.5 321.6V342.3M523.0 321.6V344.4M523.9 321.2V342.8M524.4 308.3V329.4M525.0 315.3V336.5M525.7 320.8V342.3M526.3 328.4V349.9M527.1 319.2V340.0M527.8 295.0V316.0M528.7 316.9V336.4M529.3 322.1V342.9M530.0 330.8V352.5M530.8 326.0V345.9M531.2 342.5V362.6M532.0 331.9V354.1M532.5 337.7V357.2M533.4 333.6V353.4M533.9 309.6V331.8M534.6 332.8V352.3M535.3 330.0V350.2M536.1 317.8V340.4M537.0 329.7V350.3M537.4 327.2V349.5M538.4 318.7V340.7M538.8 323.5V342.6M539.5 321.7V341.6M540.3 325.2V347.8M540.8 319.9V340.2M541.6 329.3V349.9M542.4 304.1V326.8M543.2 321.8V341.2M543.5 306.3V329.2M544.6 318.7V340.3M545.1 328.5V350.1M545.8 324.9V344.0M546.2 322.4V343.9M547.4 323.8V346.1M547.7 339.3V359.9M548.6 313.8V333.0M549.2 333.1V352.6M550.1 309.7V329.0M550.6 319.3V339.9M551.5 324.6V346.9M551.8 316.2V335.4M552.7 325.9V346.5M553.4 331.0V351.6M554.0 312.2V332.8M554.8 322.9V344.0M555.4 319.9V341.1M556.0 305.2V325.1M556.8 321.3V343.4M557.3 315.8V336.9M558.1 337.1V357.5M558.8 314.2V337.0M559.4 339.9V361.7M560.2 319.1V338.8M561.0 341.7V364.6M561.4 328.8V350.1M562.2 328.4V348.8M562.7 332.1V352.0M563.7 333.4V352.7M564.1 337.9V357.9M564.9 341.1V361.2M565.7 323.1V343.5M566.4 313.0V336.0M566.8 302.5V323.9M568.0 323.0V342.8M568.3 333.9V354.4M569.2 330.1V350.8M569.7 328.2V347.5M570.6 322.9V343.7M571.1 319.9V341.0M571.8 322.6V345.3M572.6 330.2V350.9M573.3 308.6V330.3M574.0 333.0V354.7M574.7 312.6V332.3M575.2 324.5V345.8M575.8 320.1V340.9M576.6 323.3V342.9M577.3 316.9V336.0M578.1 313.9V336.9M578.7 324.8V344.1M579.3 314.8V337.3M579.9 350.0V370.5M580.9 322.9V342.3M581.3 315.2V338.0M582.2 319.3V341.0M583.0 314.7V335.3M583.6 300.9V323.2M584.1 322.1V343.9M584.9 328.2V348.9M585.8 309.9V331.7M586.1 324.6V346.6M587.1 313.8V333.5M587.7 324.2V346.1M588.4 327.7V350.4M589.0 329.4V351.2M589.6 328.7V350.9M590.5 317.1V340.1M590.9 333.0V355.2M592.0 320.7V341.6M592.6 328.3V349.6M593.1 331.4V353.5M593.9 321.8V343.3M594.6 313.3V332.6M595.5 331.9V351.1M595.7 314.5V334.6M596.5 315.6V337.9M597.3 314.8V334.6M598.1 331.0V351.2M598.8 320.1V342.4M599.3 301.0V320.6M599.8 330.0V350.1M600.8 343.1V363.1M601.4 340.9V360.1M601.9 316.3V338.3M602.9 323.5V343.7M603.5 327.5V348.1M604.1 331.4V351.8M604.7 323.5V342.8M605.5 310.9V333.3M606.1 330.5V350.0M606.9 328.8V348.9M607.8 308.2V330.1M608.3 317.4V337.8M608.8 322.2V343.2M609.7 318.2V338.5M610.6 321.1V342.3M611.2 322.9V343.1M611.8 318.9V339.7M612.6 311.7V330.7M613.2 298.3V317.4M613.9 316.0V337.1M614.4 321.2V343.5M615.0 326.5V349.5M616.0 307.2V329.4M616.6 307.7V328.8M617.4 322.0V343.6M617.8 321.9V343.6M618.8 311.0V332.9M619.1 314.1V337.1M620.2 301.0V321.3M620.9 314.0V334.7M621.1 299.5V321.6M621.9 307.3V327.1M623.0 307.7V327.1M623.6 302.7V325.3M624.2 288.4V307.5M624.6 299.2V321.8M625.2 310.5V333.2M626.0 308.2V327.8M627.1 303.7V325.8M627.7 312.7V332.9M628.2 315.3V335.4M629.0 315.4V338.4M629.8 299.4V322.0M630.2 307.8V329.8M631.1 309.6V330.4M631.5 303.2V326.1M632.2 298.0V319.2M632.8 310.8V333.8M633.5 303.8V325.7M634.4 334.8V354.0M634.8 311.2V333.4M635.8 309.9V332.2M636.3 308.1V330.6M637.3 330.9V352.4M637.6 304.5V323.6M638.4 310.5V332.9M639.1 305.4V326.1M639.9 312.2V331.9M640.7 313.0V332.8M641.4 324.1V343.9M642.1 298.3V320.5M642.7 313.4V332.7M643.3 327.8V350.4M643.9 308.7V327.8M644.5 310.6V332.5M645.6 304.6V324.5M646.0 289.4V310.4M646.8 308.6V328.3M647.2 319.7V342.3M648.1 305.1V324.7M648.6 291.0V311.8M649.4 311.4V332.8M650.3 309.9V330.7M650.8 319.4V339.2M651.6 318.3V338.5M652.1 305.5V328.2M652.9 313.7V333.2M653.6 292.3V311.4M654.3 319.1V341.7M654.9 310.0V332.6M655.8 319.3V341.0M656.6 319.5V340.4M657.2 305.3V328.1M657.5 307.7V328.4M658.4 301.4V320.5M659.0 288.9V309.6M659.8 307.6V328.8M660.3 310.4V331.6M661.3 297.6V320.1M661.8 316.8V336.1M662.8 310.4V332.8M663.0 317.6V338.7M663.9 305.2V327.1M664.6 296.0V316.7M665.5 321.2V341.4M666.1 319.5V339.8M666.5 312.5V332.6M667.3 309.1V329.9M668.2 310.3V331.6M668.7 311.2V333.5M669.3 308.8V328.5M670.3 293.6V314.4M671.0 320.8V341.9M671.4 297.9V320.2M672.2 309.5V331.3M673.1 309.9V331.4M673.4 315.4V337.1M674.4 297.5V318.3M675.1 324.4V346.6M675.7 318.9V341.3M676.4 320.6V341.9M677.1 326.4V345.8M677.7 305.5V326.2M678.4 290.3V310.3M678.9 317.1V336.9M679.7 324.0V344.2M680.5 321.5V343.8M681.1 305.8V326.2M681.9 310.0V330.7M682.4 313.8V334.3M683.3 293.7V313.4M683.9 304.1V325.4M684.3 304.7V325.4M685.3 325.4V348.2M685.8 304.2V325.6M686.4 325.2V348.1M687.1 310.2V332.7M687.9 294.4V315.4M688.7 333.5V352.6M689.2 301.9V321.7M689.9 317.7V337.1M690.8 327.1V349.0M691.3 306.3V325.9M692.3 298.5V320.1M692.6 321.4V341.7M693.5 311.5V332.4M694.1 298.3V320.3M695.0 300.7V320.8M695.6 304.8V324.4M696.3 317.8V337.9M696.7 304.2V327.0M697.7 314.2V335.4M698.2 324.5V344.7M699.1 321.1V340.7M699.8 322.9V342.1M700.1 320.3V340.7M700.8 291.9V313.4M701.8 320.0V340.8M702.6 310.5V332.8M703.3 305.7V328.7M703.7 297.2V318.4M704.6 292.7V313.0M704.9 296.4V318.6M705.6 308.5V327.9M706.5 295.9V317.9M707.2 299.2V321.7M708.0 301.3V323.4M708.4 315.3V334.7M709.2 304.9V326.2M710.2 305.9V328.1M710.5 321.1V341.7M711.3 304.1V326.5M712.0 316.8V336.5M712.9 299.9V321.0M713.2 313.4V334.6M714.1 310.9V333.0M714.7 312.2V332.8M715.4 306.2V326.2M716.0 299.8V321.6M716.8 308.1V327.6" stroke-width="1.6"/><path d="M435.9 311.9h0M436.7 322.0h0M437.2 321.3h0M437.8 319.8h0M438.4 342.8h0M439.2 318.0h0M439.9 321.7h0M440.7 310.8h0M441.6 317.0h0M442.2 325.7h0M442.6 326.1h0M443.2 319.0h0M443.9 324.4h0M444.8 321.1h0M445.4 302.1h0M446.3 297.0h0M446.7 343.2h0M447.5 328.7h0M448.4 320.0h0M449.0 303.5h0M449.6 308.0h0M450.5 333.8h0M450.8 297.0h0M451.5 317.0h0M452.4 328.7h0M453.1 321.6h0M454.0 327.6h0M454.7 318.9h0M455.2 343.7h0M455.9 310.1h0M456.6 306.9h0M457.0 322.9h0M457.9 334.2h0M458.5 319.7h0M459.2 330.5h0M459.8 315.0h0M460.4 308.6h0M461.5 333.9h0M462.1 335.6h0M462.8 335.2h0M463.3 315.9h0M464.0 308.9h0M464.6 308.8h0M465.5 318.0h0M466.3 325.9h0M466.9 325.2h0M467.7 308.8h0M468.1 324.8h0M469.0 323.0h0M469.4 323.7h0M470.3 322.6h0M470.7 320.9h0M471.6 328.7h0M472.3 324.1h0M472.9 325.1h0M473.6 316.1h0M474.5 326.7h0M475.0 321.7h0M475.7 302.1h0M476.2 327.6h0M477.0 320.3h0M478.0 331.9h0M478.7 321.3h0M479.1 321.9h0M480.0 324.9h0M480.7 322.7h0M481.1 318.5h0M481.8 305.3h0M482.7 340.9h0M483.2 307.4h0M484.2 314.2h0M484.6 323.9h0M485.5 321.2h0M486.1 323.1h0M486.6 325.0h0M487.6 329.9h0M488.0 320.4h0M488.6 341.0h0M489.2 307.6h0M490.1 319.7h0M490.9 314.0h0M491.4 312.2h0M492.4 320.3h0M492.8 331.8h0M493.8 310.5h0M494.0 310.5h0M494.8 324.6h0M495.5 322.8h0M496.3 336.7h0M497.0 327.6h0M497.7 319.8h0M498.6 314.3h0M499.1 319.6h0M499.8 315.8h0M500.4 308.7h0M501.3 322.1h0M501.8 320.3h0M502.6 319.8h0M503.4 317.8h0M503.9 338.6h0M504.5 328.9h0M505.1 331.2h0M506.2 316.1h0M506.8 312.0h0M507.5 319.3h0M507.9 324.4h0M508.7 318.7h0M509.6 320.2h0M509.9 331.5h0M510.9 325.0h0M511.5 312.4h0M512.0 317.9h0M512.8 316.1h0M513.3 325.2h0M514.3 313.7h0M515.0 324.7h0M515.3 333.8h0M516.2 328.8h0M517.1 315.8h0M517.5 319.4h0M518.3 328.2h0M519.2 333.1h0M519.7 337.2h0M520.2 327.6h0M521.3 316.1h0M521.9 343.0h0M522.5 331.9h0M523.0 333.0h0M523.9 332.0h0M524.4 318.8h0M525.0 325.9h0M525.7 331.5h0M526.3 339.1h0M527.1 329.6h0M527.8 305.5h0M528.7 326.7h0M529.3 332.5h0M530.0 341.7h0M530.8 336.0h0M531.2 352.5h0M532.0 343.0h0M532.5 347.4h0M533.4 343.5h0M533.9 320.7h0M534.6 342.5h0M535.3 340.1h0M536.1 329.1h0M537.0 340.0h0M537.4 338.3h0M538.4 329.7h0M538.8 333.0h0M539.5 331.7h0M540.3 336.5h0M540.8 330.1h0M541.6 339.6h0M542.4 315.4h0M543.2 331.5h0M543.5 317.7h0M544.6 329.5h0M545.1 339.3h0M545.8 334.5h0M546.2 333.2h0M547.4 334.9h0M547.7 349.6h0M548.6 323.4h0M549.2 342.9h0M550.1 319.3h0M550.6 329.6h0M551.5 335.8h0M551.8 325.8h0M552.7 336.2h0M553.4 341.3h0M554.0 322.5h0M554.8 333.4h0M555.4 330.5h0M556.0 315.2h0M556.8 332.3h0M557.3 326.4h0M558.1 347.3h0M558.8 325.6h0M559.4 350.8h0M560.2 328.9h0M561.0 353.2h0M561.4 339.5h0M562.2 338.6h0M562.7 342.1h0M563.7 343.0h0M564.1 347.9h0M564.9 351.2h0M565.7 333.3h0M566.4 324.5h0M566.8 313.2h0M568.0 332.9h0M568.3 344.2h0M569.2 340.4h0M569.7 337.9h0M570.6 333.3h0M571.1 330.5h0M571.8 333.9h0M572.6 340.5h0M573.3 319.4h0M574.0 343.9h0M574.7 322.4h0M575.2 335.2h0M575.8 330.5h0M576.6 333.1h0M577.3 326.5h0M578.1 325.4h0M578.7 334.4h0M579.3 326.1h0M579.9 360.2h0M580.9 332.6h0M581.3 326.6h0M582.2 330.1h0M583.0 325.0h0M583.6 312.1h0M584.1 333.0h0M584.9 338.6h0M585.8 320.8h0M586.1 335.6h0M587.1 323.7h0M587.7 335.2h0M588.4 339.0h0M589.0 340.3h0M589.6 339.8h0M590.5 328.6h0M590.9 344.1h0M592.0 331.1h0M592.6 338.9h0M593.1 342.4h0M593.9 332.5h0M594.6 322.9h0M595.5 341.5h0M595.7 324.6h0M596.5 326.8h0M597.3 324.7h0M598.1 341.1h0M598.8 331.2h0M599.3 310.8h0M599.8 340.0h0M600.8 353.1h0M601.4 350.5h0M601.9 327.3h0M602.9 333.6h0M603.5 337.8h0M604.1 341.6h0M604.7 333.2h0M605.5 322.1h0M606.1 340.2h0M606.9 338.9h0M607.8 319.1h0M608.3 327.6h0M608.8 332.7h0M609.7 328.3h0M610.6 331.7h0M611.2 333.0h0M611.8 329.3h0M612.6 321.2h0M613.2 307.9h0M613.9 326.6h0M614.4 332.4h0M615.0 338.0h0M616.0 318.3h0M616.6 318.3h0M617.4 332.8h0M617.8 332.7h0M618.8 322.0h0M619.1 325.6h0M620.2 311.2h0M620.9 324.3h0M621.1 310.5h0M621.9 317.2h0M623.0 317.4h0M623.6 314.0h0M624.2 297.9h0M624.6 310.5h0M625.2 321.9h0M626.0 318.0h0M627.1 314.8h0M627.7 322.8h0M628.2 325.4h0M629.0 326.9h0M629.8 310.7h0M630.2 318.8h0M631.1 320.0h0M631.5 314.7h0M632.2 308.6h0M632.8 322.3h0M633.5 314.7h0M634.4 344.4h0M634.8 322.3h0M635.8 321.1h0M636.3 319.4h0M637.3 341.6h0M637.6 314.0h0M638.4 321.7h0M639.1 315.7h0M639.9 322.0h0M640.7 322.9h0M641.4 334.0h0M642.1 309.4h0M642.7 323.1h0M643.3 339.1h0M643.9 318.3h0M644.5 321.5h0M645.6 314.6h0M646.0 299.9h0M646.8 318.5h0M647.2 331.0h0M648.1 314.9h0M648.6 301.4h0M649.4 322.1h0M650.3 320.3h0M650.8 329.3h0M651.6 328.4h0M652.1 316.9h0M652.9 323.4h0M653.6 301.9h0M654.3 330.4h0M654.9 321.3h0M655.8 330.1h0M656.6 329.9h0M657.2 316.7h0M657.5 318.0h0M658.4 310.9h0M659.0 299.2h0M659.8 318.2h0M660.3 321.0h0M661.3 308.9h0M661.8 326.5h0M662.8 321.6h0M663.0 328.1h0M663.9 316.1h0M664.6 306.4h0M665.5 331.3h0M666.1 329.7h0M666.5 322.6h0M667.3 319.5h0M668.2 321.0h0M668.7 322.3h0M669.3 318.7h0M670.3 304.0h0M671.0 331.4h0M671.4 309.0h0M672.2 320.4h0M673.1 320.7h0M673.4 326.2h0M674.4 307.9h0M675.1 335.5h0M675.7 330.1h0M676.4 331.2h0M677.1 336.1h0M677.7 315.9h0M678.4 300.3h0M678.9 327.0h0M679.7 334.1h0M680.5 332.6h0M681.1 316.0h0M681.9 320.4h0M682.4 324.1h0M683.3 303.6h0M683.9 314.7h0M684.3 315.0h0M685.3 336.8h0M685.8 314.9h0M686.4 336.7h0M687.1 321.4h0M687.9 304.9h0M688.7 343.0h0M689.2 311.8h0M689.9 327.4h0M690.8 338.1h0M691.3 316.1h0M692.3 309.3h0M692.6 331.5h0M693.5 322.0h0M694.1 309.3h0M695.0 310.8h0M695.6 314.6h0M696.3 327.9h0M696.7 315.6h0M697.7 324.8h0M698.2 334.6h0M699.1 330.9h0M699.8 332.5h0M700.1 330.5h0M700.8 302.7h0M701.8 330.4h0M702.6 321.6h0M703.3 317.2h0M703.7 307.8h0M704.6 302.9h0M704.9 307.5h0M705.6 318.2h0M706.5 306.9h0M707.2 310.4h0M708.0 312.4h0M708.4 325.0h0M709.2 315.5h0M710.2 317.0h0M710.5 331.4h0M711.3 315.3h0M712.0 326.7h0M712.9 310.4h0M713.2 324.0h0M714.1 322.0h0M714.7 322.5h0M715.4 316.2h0M716.0 310.7h0M716.8 317.9h0" stroke-width="3.2" stroke-linecap="round"/></g><g clip-path="url(#cE)"><path d="M435.3 320.8 436.3 320.8 437.3 320.8 438.3 320.8 439.3 320.8 440.3 320.8 441.3 320.8 442.3 320.8 443.3 320.8 444.3 320.8 445.3 320.8 446.3 320.8 447.3 320.8 448.3 320.8 449.3 320.8 450.3 320.8 451.3 320.8 452.3 320.8 453.3 320.8 454.3 320.8 455.3 320.8 456.3 320.8 457.3 320.8 458.3 320.8 459.3 320.8 460.3 320.8 461.3 320.8 462.3 320.8 463.3 320.8 464.3 320.8 465.3 320.8 466.3 320.8 467.3 320.8 468.3 320.8 469.3 320.8 470.3 320.8 471.3 320.8 472.3 320.8 473.3 320.8 474.3 320.8 475.3 320.8 476.3 320.8 477.3 320.8 478.3 320.8 479.3 320.8 480.3 320.8 481.3 320.8 482.3 320.8 483.3 320.8 484.3 320.8 485.3 320.8 486.3 320.8 487.3 320.8 488.3 320.8 489.3 320.8 490.3 320.8 491.3 320.8 492.3 320.8 493.3 320.8 494.3 320.8 495.3 320.8 496.3 320.8 497.3 320.8 498.3 320.8 499.3 320.8 500.3 320.8 501.3 320.8 502.3 320.8 503.3 320.8 504.3 320.8 505.3 320.8 506.3 320.8 507.3 320.8 508.3 320.8 509.3 320.8 510.3 320.8 511.3 320.8 512.3 320.8 513.3 322.2 514.3 324.0 515.3 325.7 516.3 327.5 517.3 329.2 518.3 331.0 519.3 332.7 520.3 333.1 521.3 333.1 522.3 333.1 523.3 333.1 524.3 333.1 525.3 333.1 526.3 333.1 527.3 333.1 528.3 333.1 529.3 333.1 530.3 333.1 531.3 333.1 532.3 333.1 533.3 333.1 534.3 333.1 535.3 333.1 536.3 333.1 537.3 333.1 538.3 333.1 539.3 333.1 540.3 333.1 541.3 333.1 542.3 333.1 543.3 333.1 544.3 333.1 545.3 333.1 546.3 333.1 547.3 333.1 548.3 333.1 549.3 333.1 550.3 333.1 551.3 333.1 552.3 333.1 553.3 333.1 554.3 333.1 555.3 333.1 556.3 333.1 557.3 333.1 558.3 333.1 559.3 333.1 560.3 333.1 561.3 333.1 562.3 333.1 563.3 333.1 564.3 333.1 565.3 333.1 566.3 333.1 567.3 333.1 568.3 333.1 569.3 333.1 570.3 333.1 571.3 333.1 572.3 333.1 573.3 333.1 574.3 333.1 575.3 333.1 576.3 333.1 577.3 333.1 578.3 333.1 579.3 333.1 580.3 333.1 581.3 333.1 582.3 333.1 583.3 333.1 584.3 333.1 585.3 333.1 586.3 333.1 587.3 333.1 588.3 333.1 589.3 333.1 590.3 333.1 591.3 333.1 592.3 333.1 593.3 333.1 594.3 333.1 595.3 333.1 596.3 333.1 597.3 333.1 598.3 333.1 599.3 333.1 600.3 333.1 601.3 333.1 602.3 333.1 603.3 333.1 604.3 333.1 605.3 333.1 606.3 333.1 607.3 333.1 608.3 331.5 609.3 329.4 610.3 327.4 611.3 325.3 612.3 323.3 613.3 321.2 614.3 320.8 615.3 320.8 616.3 320.8 617.3 320.8 618.3 320.8 619.3 320.8 620.3 320.8 621.3 320.8 622.3 320.8 623.3 320.8 624.3 320.8 625.3 320.8 626.3 320.8 627.3 320.8 628.3 320.8 629.3 320.8 630.3 320.8 631.3 320.8 632.3 320.8 633.3 320.8 634.3 320.8 635.3 320.8 636.3 320.8 637.3 320.8 638.3 320.8 639.3 320.8 640.3 320.8 641.3 320.8 642.3 320.8 643.3 320.8 644.3 320.8 645.3 320.8 646.3 320.8 647.3 320.8 648.3 320.8 649.3 320.8 650.3 320.8 651.3 320.8 652.3 320.8 653.3 320.8 654.3 320.8 655.3 320.8 656.3 320.8 657.3 320.8 658.3 320.8 659.3 320.8 660.3 320.8 661.3 320.8 662.3 320.8 663.3 320.8 664.3 320.8 665.3 320.8 666.3 320.8 667.3 320.8 668.3 320.8 669.3 320.8 670.3 320.8 671.3 320.8 672.3 320.8 673.3 320.8 674.3 320.8 675.3 320.8 676.3 320.8 677.3 320.8 678.3 320.8 679.3 320.8 680.3 320.8 681.3 320.8 682.3 320.8 683.3 320.8 684.3 320.8 685.3 320.8 686.3 320.8 687.3 320.8 688.3 320.8 689.3 320.8 690.3 320.8 691.3 320.8 692.3 320.8 693.3 320.8 694.3 320.8 695.3 320.8 696.3 320.8 697.3 320.8 698.3 320.8 699.3 320.8 700.3 320.8 701.3 320.8 702.3 320.8 703.3 320.8 704.3 320.8 705.3 320.8 706.3 320.8 707.3 320.8 708.3 320.8 709.3 320.8 710.3 320.8 711.3 320.8 712.3 320.8 713.3 320.8 714.3 320.8 715.3 320.8 716.3 320.8 717.3 320.8" stroke="#737373" stroke-width="2.6" fill="none"/></g><g stroke="#000" stroke-width="1.2"><circle cx="443.3" cy="318.5" r="2.2" fill="#fff"/><circle cx="459.6" cy="322.2" r="2.2" fill="#fff"/><circle cx="475.8" cy="321.1" r="2.2" fill="#fff"/><circle cx="492.0" cy="321.1" r="2.2" fill="#fff"/><circle cx="508.2" cy="321.5" r="2.2" fill="#fff"/><circle cx="524.4" cy="329.6" r="2.2" fill="#fff"/><circle cx="540.6" cy="333.6" r="2.2" fill="#fff"/><circle cx="556.8" cy="335.9" r="2.2" fill="#fff"/><circle cx="573.1" cy="332.7" r="2.2" fill="#fff"/><circle cx="589.7" cy="331.3" r="2.2" fill="#fff"/><circle cx="605.9" cy="330.6" r="2.2" fill="#fff"/><circle cx="622.1" cy="319.9" r="2.2" fill="#fff"/><circle cx="638.6" cy="320.8" r="2.2" fill="#fff"/><circle cx="654.5" cy="318.8" r="2.2" fill="#fff"/><circle cx="671.0" cy="321.3" r="2.2" fill="#fff"/><circle cx="687.0" cy="321.3" r="2.2" fill="#fff"/><circle cx="703.4" cy="319.0" r="2.2" fill="#fff"/></g><g clip-path="url(#cF)" stroke="#ed869c" fill="none"><path d="M435.9 412.3V435.0M436.7 423.0V444.3M437.2 421.8V444.1M437.8 420.6V442.4M438.4 444.4V464.6M439.2 418.9V440.5M439.9 423.3V443.5M440.7 412.1V432.9M441.6 417.6V439.9M442.2 427.4V447.3M442.6 427.9V447.6M443.2 419.5V441.9M443.9 425.7V446.5M444.8 422.9V442.6M445.4 403.7V423.9M446.3 398.6V418.8M446.7 443.6V466.2M447.5 429.9V450.8M448.4 420.3V443.0M449.0 404.7V425.6M449.6 408.3V431.1M450.5 434.2V456.8M450.8 398.1V419.3M451.5 417.7V439.8M452.4 430.3V450.5M453.1 423.6V443.0M454.0 428.6V450.0M454.7 421.0V440.2M455.2 444.9V465.8M455.9 411.1V432.6M456.6 407.5V429.6M457.0 423.3V445.9M457.9 436.0V455.8M458.5 420.1V442.6M459.2 431.7V452.7M459.8 416.0V437.5M460.4 409.9V430.7M461.5 434.4V456.8M462.1 437.2V457.4M462.8 437.4V456.5M463.3 416.5V438.8M464.0 409.8V431.4M464.6 409.5V431.4M465.5 420.0V439.5M466.3 427.7V447.5M466.9 426.2V447.7M467.7 409.5V431.5M468.1 425.7V447.3M469.0 424.0V445.4M469.4 424.6V446.3M470.3 424.5V444.1M470.7 422.2V443.0M471.6 430.2V450.5M472.3 424.8V446.8M472.9 426.2V447.3M473.6 416.9V438.7M474.5 427.6V449.3M475.0 422.1V444.7M475.7 402.6V425.0M476.2 429.7V448.9M477.0 421.1V442.8M478.0 433.4V453.9M478.7 423.3V442.7M479.1 423.2V444.1M480.0 425.5V447.8M480.7 423.4V445.5M481.1 420.5V439.9M481.8 407.1V426.9M482.7 441.7V463.5M483.2 407.7V430.5M484.2 416.2V435.5M484.6 425.9V445.3M485.5 422.0V443.8M486.1 424.0V445.5M486.6 425.6V447.9M487.6 431.7V451.5M488.0 421.6V442.6M488.6 441.6V463.8M489.2 409.0V429.5M490.1 421.1V441.7M490.9 416.1V435.2M491.4 412.8V435.0M492.4 421.6V442.4M492.8 433.2V453.7M493.8 411.4V433.1M494.0 411.0V433.4M494.8 425.1V447.5M495.5 424.3V444.7M496.3 437.7V459.1M497.0 429.0V449.5M497.7 420.3V442.6M498.6 414.9V437.1M499.1 420.5V442.1M499.8 416.3V438.6M500.4 409.9V430.9M501.3 423.2V444.5M501.8 422.2V441.9M502.6 420.6V442.4M503.4 419.5V439.6M503.9 439.7V460.9M504.5 431.1V450.1M505.1 432.6V453.2M506.2 417.1V438.5M506.8 413.0V434.5M507.5 420.3V441.6M507.9 426.1V446.1M508.7 419.6V441.2M509.6 421.1V442.7M509.9 432.5V453.9M510.9 426.4V446.9M511.5 414.3V433.9M512.0 418.9V440.2M512.8 417.7V436.9M513.3 424.2V446.9M514.3 412.1V432.5M515.0 421.9V442.1M515.3 430.1V450.9M516.2 424.3V443.7M517.1 408.2V430.7M517.5 410.9V433.8M518.3 418.5V440.8M519.2 422.5V443.8M519.7 425.2V448.0M520.2 416.8V437.2M521.3 405.1V425.9M521.9 432.5V452.2M522.5 421.0V441.7M523.0 421.0V443.8M523.9 420.6V442.2M524.4 407.7V428.8M525.0 414.7V435.9M525.7 420.2V441.7M526.3 427.8V449.3M527.1 418.6V439.4M527.8 394.4V415.4M528.7 416.3V435.8M529.3 421.5V442.3M530.0 430.2V451.9M530.8 425.4V445.3M531.2 441.9V462.0M532.0 431.3V453.5M532.5 437.1V456.6M533.4 433.0V452.8M533.9 409.0V431.2M534.6 432.2V451.7M535.3 429.4V449.6M536.1 417.2V439.8M537.0 429.1V449.7M537.4 426.6V448.9M538.4 418.1V440.1M538.8 422.9V442.0M539.5 421.1V441.0M540.3 424.6V447.2M540.8 419.3V439.6M541.6 428.7V449.3M542.4 403.5V426.2M543.2 421.2V440.6M543.5 405.7V428.6M544.6 418.1V439.7M545.1 427.9V449.5M545.8 424.3V443.4M546.2 421.8V443.3M547.4 423.2V445.5M547.7 438.7V459.3M548.6 413.2V432.4M549.2 432.5V452.0M550.1 409.1V428.4M550.6 418.7V439.3M551.5 424.0V446.3M551.8 415.6V434.8M552.7 425.3V445.9M553.4 430.4V451.0M554.0 411.6V432.2M554.8 422.3V443.4M555.4 419.3V440.5M556.0 404.6V424.5M556.8 420.7V442.8M557.3 415.2V436.3M558.1 436.5V456.9M558.8 413.6V436.4M559.4 439.3V461.1M560.2 418.5V438.2M561.0 441.1V464.0M561.4 428.2V449.5M562.2 427.8V448.2M562.7 431.5V451.4M563.7 432.8V452.1M564.1 437.3V457.3M564.9 440.5V460.6M565.7 422.5V442.9M566.4 412.4V435.4M566.8 401.9V423.3M568.0 422.4V442.2M568.3 433.3V453.8M569.2 429.5V450.2M569.7 427.6V446.9M570.6 422.3V443.1M571.1 419.3V440.4M571.8 422.0V444.7M572.6 429.6V450.3M573.3 408.0V429.7M574.0 432.4V454.1M574.7 412.0V431.7M575.2 423.9V445.2M575.8 419.5V440.3M576.6 422.7V442.3M577.3 416.3V435.4M578.1 413.3V436.3M578.7 424.2V443.5M579.3 414.2V436.7M579.9 449.4V469.9M580.9 422.3V441.7M581.3 414.6V437.4M582.2 418.7V440.4M583.0 414.1V434.7M583.6 400.3V422.6M584.1 421.5V443.3M584.9 427.6V448.3M585.8 409.3V431.1M586.1 424.0V446.0M587.1 413.2V432.9M587.7 423.6V445.5M588.4 427.1V449.8M589.0 428.8V450.6M589.6 428.1V450.3M590.5 416.5V439.5M590.9 432.4V454.6M592.0 420.1V441.0M592.6 427.7V449.0M593.1 430.8V452.9M593.9 421.2V442.7M594.6 412.7V432.0M595.5 431.3V450.5M595.7 413.9V434.0M596.5 415.0V437.3M597.3 414.2V434.0M598.1 430.4V450.6M598.8 419.5V441.8M599.3 400.4V420.0M599.8 429.4V449.5M600.8 442.5V462.5M601.4 440.3V459.5M601.9 415.7V437.7M602.9 422.9V443.1M603.5 426.9V447.5M604.1 430.8V451.2M604.7 422.9V442.2M605.5 410.3V432.7M606.1 429.9V449.4M606.9 428.2V448.3M607.8 408.2V430.1M608.3 418.4V438.8M608.8 424.3V445.4M609.7 422.0V442.4M610.6 426.7V448.0M611.2 429.9V450.2M611.8 427.1V447.9M612.6 421.6V440.6M613.2 409.5V428.5M613.9 427.7V448.8M614.4 432.9V455.2M615.0 438.2V461.2M616.0 418.9V441.1M616.6 419.4V440.5M617.4 433.7V455.3M617.8 433.6V455.3M618.8 422.7V444.6M619.1 425.8V448.8M620.2 412.7V433.0M620.9 425.7V446.4M621.1 411.2V433.3M621.9 419.0V438.8M623.0 419.4V438.8M623.6 414.4V437.0M624.2 400.1V419.2M624.6 410.9V433.5M625.2 422.2V444.9M626.0 419.9V439.5M627.1 415.4V437.5M627.7 424.4V444.6M628.2 427.0V447.1M629.0 427.1V450.1M629.8 411.1V433.7M630.2 419.5V441.5M631.1 421.3V442.1M631.5 414.9V437.8M632.2 409.7V430.9M632.8 422.5V445.5M633.5 415.5V437.4M634.4 446.5V465.7M634.8 422.9V445.1M635.8 421.6V443.9M636.3 419.8V442.3M637.3 442.6V464.1M637.6 416.2V435.3M638.4 422.2V444.6M639.1 417.1V437.8M639.9 423.9V443.6M640.7 424.7V444.5M641.4 435.8V455.6M642.1 410.0V432.2M642.7 425.1V444.4M643.3 439.5V462.1M643.9 420.4V439.5M644.5 422.3V444.2M645.6 416.3V436.2M646.0 401.1V422.1M646.8 420.3V440.0M647.2 431.4V454.0M648.1 416.8V436.4M648.6 402.7V423.5M649.4 423.1V444.5M650.3 421.6V442.4M650.8 431.1V450.9M651.6 430.0V450.2M652.1 417.2V439.9M652.9 425.4V444.9M653.6 404.0V423.1M654.3 430.8V453.4M654.9 421.7V444.3M655.8 431.0V452.7M656.6 431.2V452.1M657.2 417.0V439.8M657.5 419.4V440.1M658.4 413.1V432.2M659.0 400.6V421.3M659.8 419.3V440.5M660.3 422.1V443.3M661.3 409.3V431.8M661.8 428.5V447.8M662.8 422.1V444.5M663.0 429.3V450.4M663.9 416.9V438.8M664.6 407.7V428.4M665.5 432.9V453.1M666.1 431.2V451.5M666.5 424.2V444.3M667.3 420.8V441.6M668.2 422.0V443.3M668.7 422.9V445.2M669.3 420.5V440.2M670.3 405.3V426.1M671.0 432.5V453.6M671.4 409.6V431.9M672.2 421.2V443.0M673.1 421.6V443.1M673.4 427.1V448.8M674.4 409.2V430.0M675.1 436.1V458.3M675.7 430.6V453.0M676.4 432.3V453.6M677.1 438.1V457.5M677.7 417.2V437.9M678.4 402.0V422.0M678.9 428.8V448.6M679.7 435.7V455.9M680.5 433.2V455.5M681.1 417.5V437.9M681.9 421.7V442.4M682.4 425.5V446.0M683.3 405.4V425.1M683.9 415.8V437.1M684.3 416.4V437.1M685.3 437.1V459.9M685.8 415.9V437.3M686.4 436.9V459.8M687.1 421.9V444.4M687.9 406.1V427.1M688.7 445.2V464.3M689.2 413.6V433.4M689.9 429.4V448.8M690.8 438.8V460.7M691.3 418.0V437.6M692.3 410.2V431.8M692.6 433.1V453.4M693.5 423.2V444.1M694.1 410.0V432.0M695.0 412.4V432.5M695.6 416.5V436.1M696.3 429.5V449.6M696.7 415.9V438.7M697.7 425.9V447.1M698.2 436.2V456.4M699.1 432.8V452.4M699.8 434.6V453.8M700.1 432.0V452.4M700.8 403.6V425.1M701.8 431.7V452.5M702.6 422.2V444.5M703.3 417.4V440.4M703.7 408.9V430.1M704.6 404.4V424.7M704.9 408.1V430.3M705.6 420.2V439.6M706.5 407.6V429.6M707.2 410.9V433.4M708.0 413.0V435.1M708.4 427.0V446.4M709.2 416.6V437.9M710.2 417.6V439.8M710.5 432.8V453.4M711.3 415.8V438.2M712.0 428.5V448.2M712.9 411.6V432.7M713.2 425.1V446.3M714.1 422.6V444.7M714.7 423.9V444.5M715.4 417.9V437.9M716.0 411.5V433.3M716.8 419.8V439.3" stroke-width="1.6"/><path d="M435.9 423.6h0M436.7 433.7h0M437.2 433.0h0M437.8 431.5h0M438.4 454.5h0M439.2 429.7h0M439.9 433.4h0M440.7 422.5h0M441.6 428.7h0M442.2 437.4h0M442.6 437.8h0M443.2 430.7h0M443.9 436.1h0M444.8 432.8h0M445.4 413.8h0M446.3 408.7h0M446.7 454.9h0M447.5 440.4h0M448.4 431.7h0M449.0 415.2h0M449.6 419.7h0M450.5 445.5h0M450.8 408.7h0M451.5 428.7h0M452.4 440.4h0M453.1 433.3h0M454.0 439.3h0M454.7 430.6h0M455.2 455.4h0M455.9 421.8h0M456.6 418.6h0M457.0 434.6h0M457.9 445.9h0M458.5 431.4h0M459.2 442.2h0M459.8 426.7h0M460.4 420.3h0M461.5 445.6h0M462.1 447.3h0M462.8 446.9h0M463.3 427.6h0M464.0 420.6h0M464.6 420.5h0M465.5 429.7h0M466.3 437.6h0M466.9 436.9h0M467.7 420.5h0M468.1 436.5h0M469.0 434.7h0M469.4 435.4h0M470.3 434.3h0M470.7 432.6h0M471.6 440.4h0M472.3 435.8h0M472.9 436.8h0M473.6 427.8h0M474.5 438.4h0M475.0 433.4h0M475.7 413.8h0M476.2 439.3h0M477.0 432.0h0M478.0 443.6h0M478.7 433.0h0M479.1 433.6h0M480.0 436.6h0M480.7 434.4h0M481.1 430.2h0M481.8 417.0h0M482.7 452.6h0M483.2 419.1h0M484.2 425.9h0M484.6 435.6h0M485.5 432.9h0M486.1 434.8h0M486.6 436.7h0M487.6 441.6h0M488.0 432.1h0M488.6 452.7h0M489.2 419.3h0M490.1 431.4h0M490.9 425.7h0M491.4 423.9h0M492.4 432.0h0M492.8 443.5h0M493.8 422.2h0M494.0 422.2h0M494.8 436.3h0M495.5 434.5h0M496.3 448.4h0M497.0 439.3h0M497.7 431.5h0M498.6 426.0h0M499.1 431.3h0M499.8 427.5h0M500.4 420.4h0M501.3 433.8h0M501.8 432.0h0M502.6 431.5h0M503.4 429.5h0M503.9 450.3h0M504.5 440.6h0M505.1 442.9h0M506.2 427.8h0M506.8 423.7h0M507.5 431.0h0M507.9 436.1h0M508.7 430.4h0M509.6 431.9h0M509.9 443.2h0M510.9 436.7h0M511.5 424.1h0M512.0 429.6h0M512.8 427.3h0M513.3 435.5h0M514.3 422.3h0M515.0 432.0h0M515.3 440.5h0M516.2 434.0h0M517.1 419.5h0M517.5 422.4h0M518.3 429.6h0M519.2 433.2h0M519.7 436.6h0M520.2 427.0h0M521.3 415.5h0M521.9 442.4h0M522.5 431.3h0M523.0 432.4h0M523.9 431.4h0M524.4 418.2h0M525.0 425.3h0M525.7 430.9h0M526.3 438.5h0M527.1 429.0h0M527.8 404.9h0M528.7 426.1h0M529.3 431.9h0M530.0 441.1h0M530.8 435.4h0M531.2 451.9h0M532.0 442.4h0M532.5 446.8h0M533.4 442.9h0M533.9 420.1h0M534.6 441.9h0M535.3 439.5h0M536.1 428.5h0M537.0 439.4h0M537.4 437.7h0M538.4 429.1h0M538.8 432.4h0M539.5 431.1h0M540.3 435.9h0M540.8 429.5h0M541.6 439.0h0M542.4 414.8h0M543.2 430.9h0M543.5 417.1h0M544.6 428.9h0M545.1 438.7h0M545.8 433.9h0M546.2 432.6h0M547.4 434.3h0M547.7 449.0h0M548.6 422.8h0M549.2 442.3h0M550.1 418.7h0M550.6 429.0h0M551.5 435.2h0M551.8 425.2h0M552.7 435.6h0M553.4 440.7h0M554.0 421.9h0M554.8 432.8h0M555.4 429.9h0M556.0 414.6h0M556.8 431.7h0M557.3 425.8h0M558.1 446.7h0M558.8 425.0h0M559.4 450.2h0M560.2 428.3h0M561.0 452.6h0M561.4 438.9h0M562.2 438.0h0M562.7 441.5h0M563.7 442.4h0M564.1 447.3h0M564.9 450.6h0M565.7 432.7h0M566.4 423.9h0M566.8 412.6h0M568.0 432.3h0M568.3 443.6h0M569.2 439.8h0M569.7 437.3h0M570.6 432.7h0M571.1 429.9h0M571.8 433.3h0M572.6 439.9h0M573.3 418.8h0M574.0 443.3h0M574.7 421.8h0M575.2 434.6h0M575.8 429.9h0M576.6 432.5h0M577.3 425.9h0M578.1 424.8h0M578.7 433.8h0M579.3 425.5h0M579.9 459.6h0M580.9 432.0h0M581.3 426.0h0M582.2 429.5h0M583.0 424.4h0M583.6 411.5h0M584.1 432.4h0M584.9 438.0h0M585.8 420.2h0M586.1 435.0h0M587.1 423.1h0M587.7 434.6h0M588.4 438.4h0M589.0 439.7h0M589.6 439.2h0M590.5 428.0h0M590.9 443.5h0M592.0 430.5h0M592.6 438.3h0M593.1 441.8h0M593.9 431.9h0M594.6 422.3h0M595.5 440.9h0M595.7 424.0h0M596.5 426.2h0M597.3 424.1h0M598.1 440.5h0M598.8 430.6h0M599.3 410.2h0M599.8 439.4h0M600.8 452.5h0M601.4 449.9h0M601.9 426.7h0M602.9 433.0h0M603.5 437.2h0M604.1 441.0h0M604.7 432.6h0M605.5 421.5h0M606.1 439.6h0M606.9 438.3h0M607.8 419.2h0M608.3 428.6h0M608.8 434.9h0M609.7 432.2h0M610.6 437.4h0M611.2 440.0h0M611.8 437.5h0M612.6 431.1h0M613.2 419.0h0M613.9 438.3h0M614.4 444.1h0M615.0 449.7h0M616.0 430.0h0M616.6 430.0h0M617.4 444.5h0M617.8 444.4h0M618.8 433.7h0M619.1 437.3h0M620.2 422.9h0M620.9 436.0h0M621.1 422.2h0M621.9 428.9h0M623.0 429.1h0M623.6 425.7h0M624.2 409.6h0M624.6 422.2h0M625.2 433.6h0M626.0 429.7h0M627.1 426.5h0M627.7 434.5h0M628.2 437.1h0M629.0 438.6h0M629.8 422.4h0M630.2 430.5h0M631.1 431.7h0M631.5 426.4h0M632.2 420.3h0M632.8 434.0h0M633.5 426.4h0M634.4 456.1h0M634.8 434.0h0M635.8 432.8h0M636.3 431.1h0M637.3 453.3h0M637.6 425.7h0M638.4 433.4h0M639.1 427.4h0M639.9 433.7h0M640.7 434.6h0M641.4 445.7h0M642.1 421.1h0M642.7 434.8h0M643.3 450.8h0M643.9 430.0h0M644.5 433.2h0M645.6 426.3h0M646.0 411.6h0M646.8 430.2h0M647.2 442.7h0M648.1 426.6h0M648.6 413.1h0M649.4 433.8h0M650.3 432.0h0M650.8 441.0h0M651.6 440.1h0M652.1 428.6h0M652.9 435.1h0M653.6 413.6h0M654.3 442.1h0M654.9 433.0h0M655.8 441.8h0M656.6 441.6h0M657.2 428.4h0M657.5 429.7h0M658.4 422.6h0M659.0 410.9h0M659.8 429.9h0M660.3 432.7h0M661.3 420.6h0M661.8 438.2h0M662.8 433.3h0M663.0 439.8h0M663.9 427.8h0M664.6 418.1h0M665.5 443.0h0M666.1 441.4h0M666.5 434.3h0M667.3 431.2h0M668.2 432.7h0M668.7 434.0h0M669.3 430.4h0M670.3 415.7h0M671.0 443.1h0M671.4 420.7h0M672.2 432.1h0M673.1 432.4h0M673.4 437.9h0M674.4 419.6h0M675.1 447.2h0M675.7 441.8h0M676.4 442.9h0M677.1 447.8h0M677.7 427.6h0M678.4 412.0h0M678.9 438.7h0M679.7 445.8h0M680.5 444.3h0M681.1 427.7h0M681.9 432.1h0M682.4 435.8h0M683.3 415.3h0M683.9 426.4h0M684.3 426.7h0M685.3 448.5h0M685.8 426.6h0M686.4 448.4h0M687.1 433.1h0M687.9 416.6h0M688.7 454.7h0M689.2 423.5h0M689.9 439.1h0M690.8 449.8h0M691.3 427.8h0M692.3 421.0h0M692.6 443.2h0M693.5 433.7h0M694.1 421.0h0M695.0 422.5h0M695.6 426.3h0M696.3 439.6h0M696.7 427.3h0M697.7 436.5h0M698.2 446.3h0M699.1 442.6h0M699.8 444.2h0M700.1 442.2h0M700.8 414.4h0M701.8 442.1h0M702.6 433.3h0M703.3 428.9h0M703.7 419.5h0M704.6 414.6h0M704.9 419.2h0M705.6 429.9h0M706.5 418.6h0M707.2 422.1h0M708.0 424.1h0M708.4 436.7h0M709.2 427.2h0M710.2 428.7h0M710.5 443.1h0M711.3 427.0h0M712.0 438.4h0M712.9 422.1h0M713.2 435.7h0M714.1 433.7h0M714.7 434.2h0M715.4 427.9h0M716.0 422.4h0M716.8 429.6h0" stroke-width="3.2" stroke-linecap="round"/></g><path d="M435.3 432.5H717.4" stroke="#737373" stroke-width="2.6"/><g stroke="#000" stroke-width="1.2"><circle cx="443.3" cy="430.6" r="2.2" fill="#fff"/><circle cx="459.6" cy="434.0" r="2.2" fill="#fff"/><circle cx="475.8" cy="433.0" r="2.2" fill="#fff"/><circle cx="492.0" cy="432.8" r="2.2" fill="#fff"/><circle cx="508.2" cy="432.8" r="2.2" fill="#fff"/><circle cx="524.4" cy="430.3" r="2.2" fill="#fff"/><circle cx="540.6" cy="433.2" r="2.2" fill="#fff"/><circle cx="556.8" cy="435.2" r="2.2" fill="#fff"/><circle cx="573.1" cy="432.2" r="2.2" fill="#fff"/><circle cx="589.7" cy="431.2" r="2.2" fill="#fff"/><circle cx="605.9" cy="433.8" r="2.2" fill="#fff"/><circle cx="622.1" cy="431.8" r="2.2" fill="#fff"/><circle cx="638.6" cy="432.8" r="2.2" fill="#fff"/><circle cx="654.5" cy="430.8" r="2.2" fill="#fff"/><circle cx="671.0" cy="433.0" r="2.2" fill="#fff"/><circle cx="687.0" cy="433.2" r="2.2" fill="#fff"/><circle cx="703.4" cy="430.6" r="2.2" fill="#fff"/></g><g fill="none" stroke="#383838" stroke-width="1.05"><rect x="68.5" y="0.4" width="274.0" height="350.2"/><rect x="68.5" y="383.4" width="274.0" height="87.9"/><rect x="435.3" y="0.4" width="282.1" height="115.3"/><rect x="435.3" y="131.4" width="282.1" height="115.6"/><rect x="435.3" y="263.2" width="282.1" height="115.1"/><rect x="435.3" y="394.4" width="282.1" height="76.8"/></g><path d="M65.3 38.5H68.5M65.3 93.3H68.5M65.3 148.2H68.5M65.3 203.0H68.5M65.3 257.9H68.5M65.3 312.7H68.5M68.5 350.6V353.8M114.2 350.6V353.8M159.8 350.6V353.8M205.5 350.6V353.8M251.2 350.6V353.8M296.8 350.6V353.8M342.5 350.6V353.8M65.3 394.7H68.5M65.3 427.4H68.5M65.3 460.1H68.5M68.5 471.3V474.5M114.2 471.3V474.5M159.8 471.3V474.5M205.5 471.3V474.5M251.2 471.3V474.5M296.8 471.3V474.5M342.5 471.3V474.5M432.1 19.4H435.3M432.1 57.8H435.3M432.1 96.2H435.3M432.1 151.0H435.3M432.1 189.4H435.3M432.1 227.8H435.3M432.1 282.4H435.3M432.1 320.8H435.3M432.1 359.2H435.3M465.9 115.7V118.9M514.7 115.7V118.9M563.5 115.7V118.9M612.2 115.7V118.9M661.0 115.7V118.9M709.8 115.7V118.9M465.9 247.0V250.2M514.7 247.0V250.2M563.5 247.0V250.2M612.2 247.0V250.2M661.0 247.0V250.2M709.8 247.0V250.2M465.9 378.3V381.5M514.7 378.3V381.5M563.5 378.3V381.5M612.2 378.3V381.5M661.0 378.3V381.5M709.8 378.3V381.5M465.9 471.2V474.4M514.7 471.2V474.4M563.5 471.2V474.4M612.2 471.2V474.4M661.0 471.2V474.4M709.8 471.2V474.4M432.1 401.6H435.3M432.1 432.5H435.3M432.1 463.4H435.3" stroke="#262626" stroke-width="0.9" fill="none"/><g font-family="Liberation Sans, sans-serif" fill="#000" stroke="#000" stroke-width="0.18"><text transform="translate(29.57 43.05)" font-size="12.45" textLength="32.99" lengthAdjust="spacingAndGlyphs">1.001</text><text transform="translate(29.56 97.90)" font-size="12.45" textLength="33.17" lengthAdjust="spacingAndGlyphs">1.000</text><text transform="translate(29.53 152.75)" font-size="12.45" textLength="33.27" lengthAdjust="spacingAndGlyphs">0.999</text><text transform="translate(29.53 207.60)" font-size="12.45" textLength="33.24" lengthAdjust="spacingAndGlyphs">0.998</text><text transform="translate(29.54 262.45)" font-size="12.45" textLength="33.12" lengthAdjust="spacingAndGlyphs">0.997</text><text transform="translate(29.53 317.30)" font-size="12.45" textLength="33.31" lengthAdjust="spacingAndGlyphs">0.996</text><text transform="translate(22.04 399.30)" font-size="12.45" textLength="40.81" lengthAdjust="spacingAndGlyphs">0.0006</text><text transform="translate(22.04 432.00)" font-size="12.45" textLength="40.70" lengthAdjust="spacingAndGlyphs">0.0000</text><text transform="translate(12.48 464.70)" font-size="12.45" textLength="50.39" lengthAdjust="spacingAndGlyphs">−0.0006</text><text transform="translate(403.87 23.80)" font-size="12.45" textLength="25.48" lengthAdjust="spacingAndGlyphs">1.01</text><text transform="translate(403.86 62.20)" font-size="12.45" textLength="25.67" lengthAdjust="spacingAndGlyphs">1.00</text><text transform="translate(403.83 100.60)" font-size="12.45" textLength="25.77" lengthAdjust="spacingAndGlyphs">0.99</text><text transform="translate(403.87 155.40)" font-size="12.45" textLength="25.48" lengthAdjust="spacingAndGlyphs">1.01</text><text transform="translate(403.86 193.80)" font-size="12.45" textLength="25.67" lengthAdjust="spacingAndGlyphs">1.00</text><text transform="translate(403.83 232.20)" font-size="12.45" textLength="25.77" lengthAdjust="spacingAndGlyphs">0.99</text><text transform="translate(403.87 286.80)" font-size="12.45" textLength="25.48" lengthAdjust="spacingAndGlyphs">1.01</text><text transform="translate(403.86 325.20)" font-size="12.45" textLength="25.67" lengthAdjust="spacingAndGlyphs">1.00</text><text transform="translate(403.83 363.60)" font-size="12.45" textLength="25.77" lengthAdjust="spacingAndGlyphs">0.99</text><text transform="translate(396.33 406.00)" font-size="12.45" textLength="33.24" lengthAdjust="spacingAndGlyphs">0.008</text><text transform="translate(396.33 436.90)" font-size="12.45" textLength="33.20" lengthAdjust="spacingAndGlyphs">0.000</text><text transform="translate(386.77 467.80)" font-size="12.45" textLength="42.83" lengthAdjust="spacingAndGlyphs">−0.008</text><text transform="translate(60.35 485.25)" font-size="12.45" textLength="16.53" lengthAdjust="spacingAndGlyphs">−3</text><text transform="translate(106.02 485.25)" font-size="12.45" textLength="16.37" lengthAdjust="spacingAndGlyphs">−2</text><text transform="translate(151.69 485.25)" font-size="12.45" textLength="16.45" lengthAdjust="spacingAndGlyphs">−1</text><text transform="translate(202.04 485.25)" font-size="12.45" textLength="6.91" lengthAdjust="spacingAndGlyphs">0</text><text transform="translate(247.81 485.25)" font-size="12.45" textLength="6.60" lengthAdjust="spacingAndGlyphs">1</text><text transform="translate(293.35 485.25)" font-size="12.45" textLength="6.66" lengthAdjust="spacingAndGlyphs">2</text><text transform="translate(339.20 485.25)" font-size="12.45" textLength="6.63" lengthAdjust="spacingAndGlyphs">3</text><text transform="translate(457.76 485.25)" font-size="12.45" textLength="16.37" lengthAdjust="spacingAndGlyphs">−2</text><text transform="translate(506.53 485.25)" font-size="12.45" textLength="16.45" lengthAdjust="spacingAndGlyphs">−1</text><text transform="translate(560.00 485.25)" font-size="12.45" textLength="6.91" lengthAdjust="spacingAndGlyphs">0</text><text transform="translate(608.88 485.25)" font-size="12.45" textLength="6.60" lengthAdjust="spacingAndGlyphs">1</text><text transform="translate(657.53 485.25)" font-size="12.45" textLength="6.66" lengthAdjust="spacingAndGlyphs">2</text><text transform="translate(706.50 485.25)" font-size="12.45" textLength="6.63" lengthAdjust="spacingAndGlyphs">3</text><text transform="translate(107.51 499.90)" font-size="12.45" textLength="196.09" lengthAdjust="spacingAndGlyphs">Time from Transit Center (Hours)</text><text transform="translate(478.11 499.90)" font-size="12.45" textLength="196.09" lengthAdjust="spacingAndGlyphs">Time from Transit Center (Hours)</text><text transform="translate(12.20 222.95) rotate(-90) translate(0.08 0)" font-size="12.45" textLength="94.92" lengthAdjust="spacingAndGlyphs">Normalized Flux</text><text transform="translate(9.80 455.95) rotate(-90) translate(0.11 0)" font-size="12.45" textLength="56.20" lengthAdjust="spacingAndGlyphs">Residuals</text><text transform="translate(385.10 105.55) rotate(-90) translate(0.08 0)" font-size="12.45" textLength="94.92" lengthAdjust="spacingAndGlyphs">Normalized Flux</text><text transform="translate(385.10 239.56) rotate(-90) translate(-0.33 0)" font-size="12.45" textLength="100.42" lengthAdjust="spacingAndGlyphs">Transit Removed</text><text transform="translate(385.20 386.38) rotate(-90) translate(0.18 0)" font-size="12.45" textLength="130.81" lengthAdjust="spacingAndGlyphs">Systematics Removed</text><text transform="translate(384.00 460.95) rotate(-90) translate(0.11 0)" font-size="12.45" textLength="56.20" lengthAdjust="spacingAndGlyphs">Residuals</text><text transform="translate(70.99 15.00)" font-size="15.4" textLength="10.08" lengthAdjust="spacingAndGlyphs">A</text><text transform="translate(71.17 395.70)" font-size="15.4" textLength="9.53" lengthAdjust="spacingAndGlyphs">B</text><text transform="translate(437.94 13.00)" font-size="15.4" textLength="10.46" lengthAdjust="spacingAndGlyphs">C</text><text transform="translate(438.00 143.60)" font-size="15.4" textLength="10.98" lengthAdjust="spacingAndGlyphs">D</text><text transform="translate(438.20 275.20)" font-size="15.4" textLength="8.50" lengthAdjust="spacingAndGlyphs">E</text><text transform="translate(438.21 405.80)" font-size="15.4" textLength="7.70" lengthAdjust="spacingAndGlyphs">F</text></g>
</svg></body></html>
